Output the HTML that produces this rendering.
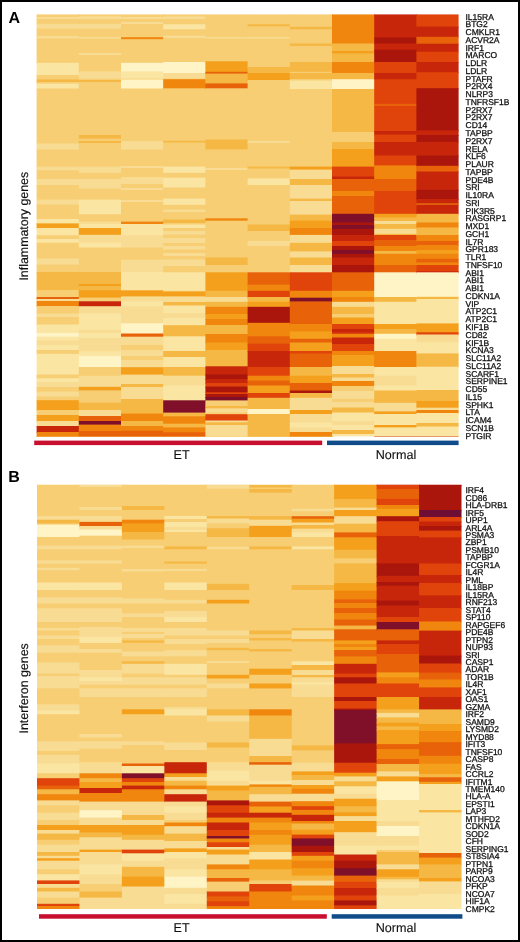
<!DOCTYPE html>
<html><head><meta charset="utf-8"><style>
html,body{margin:0;padding:0;background:#fff;}
body{width:520px;height:942px;overflow:hidden;position:relative;}
.frame{position:absolute;left:0;top:0;width:516px;height:938px;border:2px solid #000;}
svg{position:absolute;left:0;top:0;font-family:"Liberation Sans",sans-serif;text-rendering:geometricPrecision;filter:blur(0.45px);}
</style></head><body>
<div class="frame"></div>
<svg width="520" height="942" viewBox="0 0 520 942">
<rect x="36.60" y="14.40" width="43.20" height="3.60" fill="#f7ce73"/>
<rect x="36.60" y="17.00" width="43.20" height="3.00" fill="#f9dc94"/>
<rect x="36.60" y="19.00" width="43.20" height="5.80" fill="#f7ce73"/>
<rect x="36.60" y="23.80" width="43.20" height="5.90" fill="#f9dc94"/>
<rect x="36.60" y="28.70" width="43.20" height="8.30" fill="#f7ce73"/>
<rect x="36.60" y="36.00" width="43.20" height="3.40" fill="#f9dc94"/>
<rect x="36.60" y="38.40" width="43.20" height="25.40" fill="#f7ce73"/>
<rect x="36.60" y="62.80" width="43.20" height="13.20" fill="#fbe5a2"/>
<rect x="36.60" y="75.00" width="43.20" height="5.50" fill="#f7ce73"/>
<rect x="36.60" y="79.50" width="43.20" height="3.50" fill="#f5b844"/>
<rect x="36.60" y="82.00" width="43.20" height="2.60" fill="#f7ce73"/>
<rect x="36.60" y="83.60" width="43.20" height="5.90" fill="#fbe5a2"/>
<rect x="36.60" y="88.50" width="43.20" height="56.00" fill="#f7ce73"/>
<rect x="36.60" y="143.50" width="43.20" height="7.10" fill="#f9dc94"/>
<rect x="36.60" y="149.60" width="43.20" height="18.10" fill="#f7ce73"/>
<rect x="36.60" y="166.70" width="43.20" height="4.60" fill="#f9dc94"/>
<rect x="36.60" y="170.30" width="43.20" height="9.70" fill="#f7ce73"/>
<rect x="36.60" y="179.00" width="43.20" height="7.00" fill="#f9dc94"/>
<rect x="36.60" y="185.00" width="43.20" height="15.60" fill="#f7ce73"/>
<rect x="36.60" y="199.60" width="43.20" height="5.90" fill="#f9dc94"/>
<rect x="36.60" y="204.50" width="43.20" height="15.50" fill="#f7ce73"/>
<rect x="36.60" y="219.00" width="43.20" height="5.00" fill="#fbe5a2"/>
<rect x="36.60" y="223.00" width="43.20" height="1.60" fill="#f7ce73"/>
<rect x="36.60" y="223.60" width="43.20" height="5.40" fill="#f4a01c"/>
<rect x="36.60" y="228.00" width="43.20" height="8.30" fill="#fbe5a2"/>
<rect x="36.60" y="235.30" width="43.20" height="4.70" fill="#f7ce73"/>
<rect x="36.60" y="239.00" width="43.20" height="4.70" fill="#fbe5a2"/>
<rect x="36.60" y="242.70" width="43.20" height="16.80" fill="#f7ce73"/>
<rect x="36.60" y="258.50" width="43.20" height="7.10" fill="#f9dc94"/>
<rect x="36.60" y="264.60" width="43.20" height="8.40" fill="#f7ce73"/>
<rect x="36.60" y="272.00" width="43.20" height="19.00" fill="#f5b844"/>
<rect x="36.60" y="290.00" width="43.20" height="8.00" fill="#f7ce73"/>
<rect x="36.60" y="297.00" width="43.20" height="3.00" fill="#e8620a"/>
<rect x="36.60" y="299.00" width="43.20" height="3.00" fill="#f9dc94"/>
<rect x="36.60" y="301.00" width="43.20" height="6.00" fill="#f0860e"/>
<rect x="36.60" y="306.00" width="43.20" height="8.50" fill="#f7ce73"/>
<rect x="36.60" y="313.50" width="43.20" height="4.50" fill="#f9dc94"/>
<rect x="36.60" y="317.00" width="43.20" height="8.50" fill="#f7ce73"/>
<rect x="36.60" y="324.50" width="43.20" height="9.50" fill="#fbe5a2"/>
<rect x="36.60" y="333.00" width="43.20" height="4.70" fill="#fef4c6"/>
<rect x="36.60" y="336.70" width="43.20" height="4.70" fill="#fbe5a2"/>
<rect x="36.60" y="340.40" width="43.20" height="5.60" fill="#f9dc94"/>
<rect x="36.60" y="345.00" width="43.20" height="6.00" fill="#fbe5a2"/>
<rect x="36.60" y="350.00" width="43.20" height="4.80" fill="#f7ce73"/>
<rect x="36.60" y="353.80" width="43.20" height="21.80" fill="#fbe5a2"/>
<rect x="36.60" y="374.60" width="43.20" height="4.60" fill="#f7ce73"/>
<rect x="36.60" y="378.20" width="43.20" height="4.80" fill="#fbe5a2"/>
<rect x="36.60" y="382.00" width="43.20" height="6.00" fill="#f9dc94"/>
<rect x="36.60" y="387.00" width="43.20" height="5.60" fill="#f7ce73"/>
<rect x="36.60" y="391.60" width="43.20" height="5.90" fill="#f9dc94"/>
<rect x="36.60" y="396.50" width="43.20" height="4.70" fill="#f7ce73"/>
<rect x="36.60" y="400.20" width="43.20" height="10.80" fill="#f4a01c"/>
<rect x="36.60" y="410.00" width="43.20" height="6.00" fill="#f7ce73"/>
<rect x="36.60" y="415.00" width="43.20" height="7.00" fill="#f4a01c"/>
<rect x="36.60" y="421.00" width="43.20" height="6.00" fill="#f9dc94"/>
<rect x="36.60" y="426.00" width="43.20" height="7.00" fill="#c8260a"/>
<rect x="36.60" y="432.00" width="43.20" height="5.00" fill="#f0860e"/>
<rect x="36.60" y="436.00" width="43.20" height="0.40" fill="#f7ce73"/>
<rect x="78.80" y="14.40" width="43.20" height="3.00" fill="#f7ce73"/>
<rect x="78.80" y="16.40" width="43.20" height="3.60" fill="#f9dc94"/>
<rect x="78.80" y="19.00" width="43.20" height="5.80" fill="#f7ce73"/>
<rect x="78.80" y="23.80" width="43.20" height="5.90" fill="#f9dc94"/>
<rect x="78.80" y="28.70" width="43.20" height="9.30" fill="#f7ce73"/>
<rect x="78.80" y="37.00" width="43.20" height="2.50" fill="#f9dc94"/>
<rect x="78.80" y="38.50" width="43.20" height="15.50" fill="#f7ce73"/>
<rect x="78.80" y="53.00" width="43.20" height="3.00" fill="#f9dc94"/>
<rect x="78.80" y="55.00" width="43.20" height="17.40" fill="#f7ce73"/>
<rect x="78.80" y="71.40" width="43.20" height="8.30" fill="#f9dc94"/>
<rect x="78.80" y="78.70" width="43.20" height="2.30" fill="#f7ce73"/>
<rect x="78.80" y="80.00" width="43.20" height="3.00" fill="#f5b844"/>
<rect x="78.80" y="82.00" width="43.20" height="54.00" fill="#f7ce73"/>
<rect x="78.80" y="135.00" width="43.20" height="4.60" fill="#f5b844"/>
<rect x="78.80" y="138.60" width="43.20" height="3.40" fill="#f7ce73"/>
<rect x="78.80" y="141.00" width="43.20" height="3.00" fill="#f5b844"/>
<rect x="78.80" y="143.00" width="43.20" height="24.70" fill="#f7ce73"/>
<rect x="78.80" y="166.70" width="43.20" height="7.10" fill="#f9dc94"/>
<rect x="78.80" y="172.80" width="43.20" height="7.20" fill="#f7ce73"/>
<rect x="78.80" y="179.00" width="43.20" height="10.60" fill="#f9dc94"/>
<rect x="78.80" y="188.60" width="43.20" height="12.00" fill="#f7ce73"/>
<rect x="78.80" y="199.60" width="43.20" height="15.70" fill="#fbe5a2"/>
<rect x="78.80" y="214.30" width="43.20" height="8.30" fill="#f7ce73"/>
<rect x="78.80" y="221.60" width="43.20" height="3.40" fill="#f9dc94"/>
<rect x="78.80" y="224.00" width="43.20" height="5.00" fill="#fbe5a2"/>
<rect x="78.80" y="228.00" width="43.20" height="7.80" fill="#f4a01c"/>
<rect x="78.80" y="234.80" width="43.20" height="8.90" fill="#f9dc94"/>
<rect x="78.80" y="242.70" width="43.20" height="5.80" fill="#fbe5a2"/>
<rect x="78.80" y="247.50" width="43.20" height="25.50" fill="#f7ce73"/>
<rect x="78.80" y="272.00" width="43.20" height="13.00" fill="#f5b844"/>
<rect x="78.80" y="284.00" width="43.20" height="3.00" fill="#f4a01c"/>
<rect x="78.80" y="286.00" width="43.20" height="5.30" fill="#f5b844"/>
<rect x="78.80" y="290.30" width="43.20" height="8.30" fill="#f4a01c"/>
<rect x="78.80" y="297.60" width="43.20" height="4.70" fill="#f7ce73"/>
<rect x="78.80" y="301.30" width="43.20" height="5.90" fill="#c8260a"/>
<rect x="78.80" y="306.20" width="43.20" height="8.30" fill="#f9dc94"/>
<rect x="78.80" y="313.50" width="43.20" height="17.50" fill="#fbe5a2"/>
<rect x="78.80" y="330.00" width="43.20" height="4.00" fill="#f9dc94"/>
<rect x="78.80" y="333.00" width="43.20" height="6.00" fill="#fbe5a2"/>
<rect x="78.80" y="338.00" width="43.20" height="14.40" fill="#f9dc94"/>
<rect x="78.80" y="351.40" width="43.20" height="5.60" fill="#fbe5a2"/>
<rect x="78.80" y="356.00" width="43.20" height="12.00" fill="#fef4c6"/>
<rect x="78.80" y="367.00" width="43.20" height="9.80" fill="#f7ce73"/>
<rect x="78.80" y="375.80" width="43.20" height="12.00" fill="#f9dc94"/>
<rect x="78.80" y="386.80" width="43.20" height="4.60" fill="#f4a01c"/>
<rect x="78.80" y="390.40" width="43.20" height="13.20" fill="#f7ce73"/>
<rect x="78.80" y="402.60" width="43.20" height="8.40" fill="#f5b844"/>
<rect x="78.80" y="410.00" width="43.20" height="7.00" fill="#f9dc94"/>
<rect x="78.80" y="416.00" width="43.20" height="6.00" fill="#e8620a"/>
<rect x="78.80" y="421.00" width="43.20" height="4.60" fill="#80102a"/>
<rect x="78.80" y="424.60" width="43.20" height="7.40" fill="#f0860e"/>
<rect x="78.80" y="431.00" width="43.20" height="6.00" fill="#e8620a"/>
<rect x="78.80" y="436.00" width="43.20" height="0.40" fill="#f7ce73"/>
<rect x="121.00" y="14.40" width="43.20" height="3.60" fill="#f7ce73"/>
<rect x="121.00" y="17.00" width="43.20" height="3.00" fill="#f9dc94"/>
<rect x="121.00" y="19.00" width="43.20" height="4.00" fill="#f7ce73"/>
<rect x="121.00" y="22.00" width="43.20" height="3.00" fill="#f9dc94"/>
<rect x="121.00" y="24.00" width="43.20" height="14.20" fill="#f7ce73"/>
<rect x="121.00" y="37.20" width="43.20" height="3.00" fill="#f0860e"/>
<rect x="121.00" y="39.20" width="43.20" height="24.60" fill="#f7ce73"/>
<rect x="121.00" y="62.80" width="43.20" height="9.60" fill="#fef4c6"/>
<rect x="121.00" y="71.40" width="43.20" height="8.30" fill="#fbe5a2"/>
<rect x="121.00" y="78.70" width="43.20" height="1.80" fill="#f7ce73"/>
<rect x="121.00" y="79.50" width="43.20" height="10.00" fill="#fef4c6"/>
<rect x="121.00" y="88.50" width="43.20" height="53.50" fill="#f7ce73"/>
<rect x="121.00" y="141.00" width="43.20" height="9.60" fill="#f9dc94"/>
<rect x="121.00" y="149.60" width="43.20" height="17.40" fill="#f7ce73"/>
<rect x="121.00" y="166.00" width="43.20" height="3.00" fill="#f9dc94"/>
<rect x="121.00" y="168.00" width="43.20" height="10.00" fill="#f7ce73"/>
<rect x="121.00" y="177.00" width="43.20" height="8.00" fill="#f9dc94"/>
<rect x="121.00" y="184.00" width="43.20" height="5.00" fill="#f7ce73"/>
<rect x="121.00" y="188.00" width="43.20" height="3.00" fill="#f9dc94"/>
<rect x="121.00" y="190.00" width="43.20" height="11.00" fill="#f7ce73"/>
<rect x="121.00" y="200.00" width="43.20" height="3.00" fill="#f9dc94"/>
<rect x="121.00" y="202.00" width="43.20" height="20.60" fill="#f7ce73"/>
<rect x="121.00" y="221.60" width="43.20" height="3.40" fill="#f0860e"/>
<rect x="121.00" y="224.00" width="43.20" height="12.30" fill="#fbe5a2"/>
<rect x="121.00" y="235.30" width="43.20" height="13.20" fill="#f9dc94"/>
<rect x="121.00" y="247.50" width="43.20" height="13.20" fill="#f7ce73"/>
<rect x="121.00" y="259.70" width="43.20" height="13.30" fill="#f9dc94"/>
<rect x="121.00" y="272.00" width="43.20" height="19.30" fill="#fbe5a2"/>
<rect x="121.00" y="290.30" width="43.20" height="7.10" fill="#f4a01c"/>
<rect x="121.00" y="296.40" width="43.20" height="5.90" fill="#f9dc94"/>
<rect x="121.00" y="301.30" width="43.20" height="5.90" fill="#fbe5a2"/>
<rect x="121.00" y="306.20" width="43.20" height="18.10" fill="#f9dc94"/>
<rect x="121.00" y="323.30" width="43.20" height="11.20" fill="#fef4c6"/>
<rect x="121.00" y="333.50" width="43.20" height="4.20" fill="#e8620a"/>
<rect x="121.00" y="336.70" width="43.20" height="9.30" fill="#f9dc94"/>
<rect x="121.00" y="345.00" width="43.20" height="6.00" fill="#f7ce73"/>
<rect x="121.00" y="350.00" width="43.20" height="7.00" fill="#f9dc94"/>
<rect x="121.00" y="356.00" width="43.20" height="5.00" fill="#f7ce73"/>
<rect x="121.00" y="360.00" width="43.20" height="8.20" fill="#f9dc94"/>
<rect x="121.00" y="367.20" width="43.20" height="8.40" fill="#f4a01c"/>
<rect x="121.00" y="374.60" width="43.20" height="10.40" fill="#f9dc94"/>
<rect x="121.00" y="384.00" width="43.20" height="4.00" fill="#f5b844"/>
<rect x="121.00" y="387.00" width="43.20" height="13.00" fill="#f9dc94"/>
<rect x="121.00" y="399.00" width="43.20" height="15.60" fill="#f5b844"/>
<rect x="121.00" y="413.60" width="43.20" height="8.40" fill="#f0860e"/>
<rect x="121.00" y="421.00" width="43.20" height="6.00" fill="#f5b844"/>
<rect x="121.00" y="426.00" width="43.20" height="5.70" fill="#f0860e"/>
<rect x="121.00" y="430.70" width="43.20" height="6.30" fill="#e8620a"/>
<rect x="121.00" y="436.00" width="43.20" height="0.40" fill="#f7ce73"/>
<rect x="163.20" y="14.40" width="43.20" height="3.10" fill="#f7ce73"/>
<rect x="163.20" y="16.50" width="43.20" height="3.50" fill="#f9dc94"/>
<rect x="163.20" y="19.00" width="43.20" height="6.30" fill="#f7ce73"/>
<rect x="163.20" y="24.30" width="43.20" height="6.00" fill="#fbe5a2"/>
<rect x="163.20" y="29.30" width="43.20" height="7.40" fill="#f7ce73"/>
<rect x="163.20" y="35.70" width="43.20" height="3.30" fill="#f9dc94"/>
<rect x="163.20" y="38.00" width="43.20" height="25.00" fill="#f7ce73"/>
<rect x="163.20" y="62.00" width="43.20" height="12.00" fill="#fef4c6"/>
<rect x="163.20" y="73.00" width="43.20" height="6.50" fill="#f9dc94"/>
<rect x="163.20" y="78.50" width="43.20" height="1.70" fill="#f7ce73"/>
<rect x="163.20" y="79.20" width="43.20" height="10.10" fill="#f0860e"/>
<rect x="163.20" y="88.30" width="43.20" height="53.50" fill="#f7ce73"/>
<rect x="163.20" y="140.80" width="43.20" height="2.70" fill="#f5b844"/>
<rect x="163.20" y="142.50" width="43.20" height="25.10" fill="#f7ce73"/>
<rect x="163.20" y="166.60" width="43.20" height="7.20" fill="#fbe5a2"/>
<rect x="163.20" y="172.80" width="43.20" height="5.90" fill="#f7ce73"/>
<rect x="163.20" y="177.70" width="43.20" height="10.80" fill="#fbe5a2"/>
<rect x="163.20" y="187.50" width="43.20" height="12.10" fill="#f7ce73"/>
<rect x="163.20" y="198.60" width="43.20" height="7.20" fill="#fbe5a2"/>
<rect x="163.20" y="204.80" width="43.20" height="5.90" fill="#f7ce73"/>
<rect x="163.20" y="209.70" width="43.20" height="3.30" fill="#f9dc94"/>
<rect x="163.20" y="212.00" width="43.20" height="8.50" fill="#f7ce73"/>
<rect x="163.20" y="219.50" width="43.20" height="4.50" fill="#f5b844"/>
<rect x="163.20" y="223.00" width="43.20" height="2.50" fill="#f7ce73"/>
<rect x="163.20" y="224.50" width="43.20" height="4.50" fill="#fbe5a2"/>
<rect x="163.20" y="228.00" width="43.20" height="4.00" fill="#f7ce73"/>
<rect x="163.20" y="231.00" width="43.20" height="4.60" fill="#f9dc94"/>
<rect x="163.20" y="234.60" width="43.20" height="4.40" fill="#f7ce73"/>
<rect x="163.20" y="238.00" width="43.20" height="6.00" fill="#f9dc94"/>
<rect x="163.20" y="243.00" width="43.20" height="4.00" fill="#f7ce73"/>
<rect x="163.20" y="246.00" width="43.20" height="4.50" fill="#f9dc94"/>
<rect x="163.20" y="249.50" width="43.20" height="4.50" fill="#f7ce73"/>
<rect x="163.20" y="253.00" width="43.20" height="4.00" fill="#f9dc94"/>
<rect x="163.20" y="256.00" width="43.20" height="4.50" fill="#f7ce73"/>
<rect x="163.20" y="259.50" width="43.20" height="7.50" fill="#f9dc94"/>
<rect x="163.20" y="266.00" width="43.20" height="7.30" fill="#f7ce73"/>
<rect x="163.20" y="272.30" width="43.20" height="19.50" fill="#fbe5a2"/>
<rect x="163.20" y="290.80" width="43.20" height="1.70" fill="#f7ce73"/>
<rect x="163.20" y="291.50" width="43.20" height="5.90" fill="#f4a01c"/>
<rect x="163.20" y="296.40" width="43.20" height="6.60" fill="#f9dc94"/>
<rect x="163.20" y="302.00" width="43.20" height="4.50" fill="#f5b844"/>
<rect x="163.20" y="305.50" width="43.20" height="8.50" fill="#fbe5a2"/>
<rect x="163.20" y="313.00" width="43.20" height="6.00" fill="#f9dc94"/>
<rect x="163.20" y="318.00" width="43.20" height="8.20" fill="#fbe5a2"/>
<rect x="163.20" y="325.20" width="43.20" height="12.10" fill="#f5b844"/>
<rect x="163.20" y="336.30" width="43.20" height="15.70" fill="#fbe5a2"/>
<rect x="163.20" y="351.00" width="43.20" height="7.00" fill="#f5b844"/>
<rect x="163.20" y="357.00" width="43.20" height="11.00" fill="#fbe5a2"/>
<rect x="163.20" y="367.00" width="43.20" height="9.70" fill="#f5b844"/>
<rect x="163.20" y="375.70" width="43.20" height="10.80" fill="#f9dc94"/>
<rect x="163.20" y="385.50" width="43.20" height="15.80" fill="#fbe5a2"/>
<rect x="163.20" y="400.30" width="43.20" height="13.30" fill="#80102a"/>
<rect x="163.20" y="412.60" width="43.20" height="4.70" fill="#f5b844"/>
<rect x="163.20" y="416.30" width="43.20" height="8.40" fill="#f0860e"/>
<rect x="163.20" y="423.70" width="43.20" height="4.70" fill="#f5b844"/>
<rect x="163.20" y="427.40" width="43.20" height="5.90" fill="#f0860e"/>
<rect x="163.20" y="432.30" width="43.20" height="4.70" fill="#e8620a"/>
<rect x="163.20" y="436.00" width="43.20" height="0.40" fill="#f7ce73"/>
<rect x="205.40" y="14.40" width="43.20" height="23.60" fill="#f7ce73"/>
<rect x="205.40" y="37.00" width="43.20" height="2.50" fill="#f9dc94"/>
<rect x="205.40" y="38.50" width="43.20" height="23.80" fill="#f7ce73"/>
<rect x="205.40" y="61.30" width="43.20" height="11.50" fill="#f4a01c"/>
<rect x="205.40" y="71.80" width="43.20" height="2.80" fill="#e8620a"/>
<rect x="205.40" y="73.60" width="43.20" height="10.80" fill="#f5b844"/>
<rect x="205.40" y="83.40" width="43.20" height="5.90" fill="#e8620a"/>
<rect x="205.40" y="88.30" width="43.20" height="52.20" fill="#f7ce73"/>
<rect x="205.40" y="139.50" width="43.20" height="10.90" fill="#f5b844"/>
<rect x="205.40" y="149.40" width="43.20" height="19.60" fill="#f7ce73"/>
<rect x="205.40" y="168.00" width="43.20" height="3.00" fill="#f9dc94"/>
<rect x="205.40" y="170.00" width="43.20" height="49.30" fill="#f7ce73"/>
<rect x="205.40" y="218.30" width="43.20" height="3.40" fill="#f0860e"/>
<rect x="205.40" y="220.70" width="43.20" height="37.80" fill="#f7ce73"/>
<rect x="205.40" y="257.50" width="43.20" height="8.50" fill="#f5b844"/>
<rect x="205.40" y="265.00" width="43.20" height="8.30" fill="#f7ce73"/>
<rect x="205.40" y="272.30" width="43.20" height="19.50" fill="#f4a01c"/>
<rect x="205.40" y="290.80" width="43.20" height="7.20" fill="#f5b844"/>
<rect x="205.40" y="297.00" width="43.20" height="5.80" fill="#f9dc94"/>
<rect x="205.40" y="301.80" width="43.20" height="6.00" fill="#f5b844"/>
<rect x="205.40" y="306.80" width="43.20" height="8.20" fill="#f0860e"/>
<rect x="205.40" y="314.00" width="43.20" height="6.00" fill="#f4a01c"/>
<rect x="205.40" y="319.00" width="43.20" height="7.00" fill="#f0860e"/>
<rect x="205.40" y="325.00" width="43.20" height="10.00" fill="#f5b844"/>
<rect x="205.40" y="334.00" width="43.20" height="9.50" fill="#f0860e"/>
<rect x="205.40" y="342.50" width="43.20" height="8.50" fill="#f4a01c"/>
<rect x="205.40" y="350.00" width="43.20" height="17.30" fill="#f5b844"/>
<rect x="205.40" y="366.30" width="43.20" height="9.10" fill="#c8260a"/>
<rect x="205.40" y="374.40" width="43.20" height="5.60" fill="#aa160c"/>
<rect x="205.40" y="379.00" width="43.20" height="5.00" fill="#c8260a"/>
<rect x="205.40" y="383.00" width="43.20" height="4.50" fill="#e0440a"/>
<rect x="205.40" y="386.50" width="43.20" height="6.80" fill="#aa160c"/>
<rect x="205.40" y="392.30" width="43.20" height="2.70" fill="#e0440a"/>
<rect x="205.40" y="394.00" width="43.20" height="4.00" fill="#aa160c"/>
<rect x="205.40" y="397.00" width="43.20" height="4.40" fill="#80102a"/>
<rect x="205.40" y="400.40" width="43.20" height="6.60" fill="#f7ce73"/>
<rect x="205.40" y="406.00" width="43.20" height="3.40" fill="#f5b844"/>
<rect x="205.40" y="408.40" width="43.20" height="5.10" fill="#f9dc94"/>
<rect x="205.40" y="412.50" width="43.20" height="2.70" fill="#f7ce73"/>
<rect x="205.40" y="414.20" width="43.20" height="7.30" fill="#e0440a"/>
<rect x="205.40" y="420.50" width="43.20" height="2.80" fill="#f9dc94"/>
<rect x="205.40" y="422.30" width="43.20" height="3.70" fill="#f5b844"/>
<rect x="205.40" y="425.00" width="43.20" height="12.00" fill="#f9dc94"/>
<rect x="205.40" y="436.00" width="43.20" height="0.40" fill="#f7ce73"/>
<rect x="247.60" y="14.40" width="43.20" height="10.90" fill="#f7ce73"/>
<rect x="247.60" y="24.30" width="43.20" height="3.00" fill="#f5b844"/>
<rect x="247.60" y="26.30" width="43.20" height="11.70" fill="#f7ce73"/>
<rect x="247.60" y="37.00" width="43.20" height="2.50" fill="#f9dc94"/>
<rect x="247.60" y="38.50" width="43.20" height="29.50" fill="#f7ce73"/>
<rect x="247.60" y="67.00" width="43.20" height="7.00" fill="#f5b844"/>
<rect x="247.60" y="73.00" width="43.20" height="8.00" fill="#f4a01c"/>
<rect x="247.60" y="80.00" width="43.20" height="61.80" fill="#f7ce73"/>
<rect x="247.60" y="140.80" width="43.20" height="3.20" fill="#f9dc94"/>
<rect x="247.60" y="143.00" width="43.20" height="24.60" fill="#f7ce73"/>
<rect x="247.60" y="166.60" width="43.20" height="2.90" fill="#f5b844"/>
<rect x="247.60" y="168.50" width="43.20" height="10.90" fill="#f7ce73"/>
<rect x="247.60" y="178.40" width="43.20" height="7.60" fill="#fbe5a2"/>
<rect x="247.60" y="185.00" width="43.20" height="40.50" fill="#f7ce73"/>
<rect x="247.60" y="224.50" width="43.20" height="7.50" fill="#f5b844"/>
<rect x="247.60" y="231.00" width="43.20" height="11.00" fill="#f7ce73"/>
<rect x="247.60" y="241.00" width="43.20" height="6.00" fill="#f9dc94"/>
<rect x="247.60" y="246.00" width="43.20" height="27.30" fill="#f7ce73"/>
<rect x="247.60" y="272.30" width="43.20" height="13.30" fill="#e8620a"/>
<rect x="247.60" y="284.60" width="43.20" height="7.20" fill="#f0860e"/>
<rect x="247.60" y="290.80" width="43.20" height="7.20" fill="#e0440a"/>
<rect x="247.60" y="297.00" width="43.20" height="5.80" fill="#f5b844"/>
<rect x="247.60" y="301.80" width="43.20" height="6.00" fill="#f4a01c"/>
<rect x="247.60" y="306.80" width="43.20" height="17.00" fill="#aa160c"/>
<rect x="247.60" y="322.80" width="43.20" height="14.50" fill="#f0860e"/>
<rect x="247.60" y="336.30" width="43.20" height="8.40" fill="#e8620a"/>
<rect x="247.60" y="343.70" width="43.20" height="8.30" fill="#e0440a"/>
<rect x="247.60" y="351.00" width="43.20" height="17.00" fill="#c8260a"/>
<rect x="247.60" y="367.00" width="43.20" height="9.70" fill="#e0440a"/>
<rect x="247.60" y="375.70" width="43.20" height="5.90" fill="#f0860e"/>
<rect x="247.60" y="380.60" width="43.20" height="5.90" fill="#e8620a"/>
<rect x="247.60" y="385.50" width="43.20" height="8.50" fill="#f4a01c"/>
<rect x="247.60" y="393.00" width="43.20" height="5.80" fill="#e0440a"/>
<rect x="247.60" y="397.80" width="43.20" height="12.20" fill="#f5b844"/>
<rect x="247.60" y="409.00" width="43.20" height="6.00" fill="#fef4c6"/>
<rect x="247.60" y="414.00" width="43.20" height="23.00" fill="#f5b844"/>
<rect x="247.60" y="436.00" width="43.20" height="0.40" fill="#f7ce73"/>
<rect x="289.80" y="14.40" width="43.20" height="13.40" fill="#f7ce73"/>
<rect x="289.80" y="26.80" width="43.20" height="3.50" fill="#f5b844"/>
<rect x="289.80" y="29.30" width="43.20" height="15.20" fill="#f7ce73"/>
<rect x="289.80" y="43.50" width="43.20" height="3.50" fill="#f5b844"/>
<rect x="289.80" y="46.00" width="43.20" height="17.00" fill="#f7ce73"/>
<rect x="289.80" y="62.00" width="43.20" height="10.80" fill="#f5b844"/>
<rect x="289.80" y="71.80" width="43.20" height="2.20" fill="#f7ce73"/>
<rect x="289.80" y="73.00" width="43.20" height="7.00" fill="#f5b844"/>
<rect x="289.80" y="79.00" width="43.20" height="2.50" fill="#f7ce73"/>
<rect x="289.80" y="80.50" width="43.20" height="9.50" fill="#fbe5a2"/>
<rect x="289.80" y="89.00" width="43.20" height="78.60" fill="#f7ce73"/>
<rect x="289.80" y="166.60" width="43.20" height="4.00" fill="#f4a01c"/>
<rect x="289.80" y="169.60" width="43.20" height="10.40" fill="#f9dc94"/>
<rect x="289.80" y="179.00" width="43.20" height="7.00" fill="#f5b844"/>
<rect x="289.80" y="185.00" width="43.20" height="14.60" fill="#f9dc94"/>
<rect x="289.80" y="198.60" width="43.20" height="3.40" fill="#f5b844"/>
<rect x="289.80" y="201.00" width="43.20" height="14.60" fill="#f9dc94"/>
<rect x="289.80" y="214.60" width="43.20" height="7.10" fill="#f5b844"/>
<rect x="289.80" y="220.70" width="43.20" height="8.30" fill="#f4a01c"/>
<rect x="289.80" y="228.00" width="43.20" height="7.90" fill="#f0860e"/>
<rect x="289.80" y="234.90" width="43.20" height="8.90" fill="#f9dc94"/>
<rect x="289.80" y="242.80" width="43.20" height="9.60" fill="#f5b844"/>
<rect x="289.80" y="251.40" width="43.20" height="7.10" fill="#f9dc94"/>
<rect x="289.80" y="257.50" width="43.20" height="8.50" fill="#f5b844"/>
<rect x="289.80" y="265.00" width="43.20" height="8.30" fill="#f9dc94"/>
<rect x="289.80" y="272.30" width="43.20" height="19.50" fill="#e0440a"/>
<rect x="289.80" y="290.80" width="43.20" height="7.90" fill="#f0860e"/>
<rect x="289.80" y="297.70" width="43.20" height="4.70" fill="#80102a"/>
<rect x="289.80" y="301.40" width="43.20" height="23.60" fill="#e8620a"/>
<rect x="289.80" y="324.00" width="43.20" height="8.40" fill="#f0860e"/>
<rect x="289.80" y="331.40" width="43.20" height="8.40" fill="#f4a01c"/>
<rect x="289.80" y="338.80" width="43.20" height="4.70" fill="#e8620a"/>
<rect x="289.80" y="342.50" width="43.20" height="9.50" fill="#f4a01c"/>
<rect x="289.80" y="351.00" width="43.20" height="3.50" fill="#e0440a"/>
<rect x="289.80" y="353.50" width="43.20" height="14.50" fill="#e8620a"/>
<rect x="289.80" y="367.00" width="43.20" height="9.70" fill="#f5b844"/>
<rect x="289.80" y="375.70" width="43.20" height="8.30" fill="#f4a01c"/>
<rect x="289.80" y="383.00" width="43.20" height="8.50" fill="#e8620a"/>
<rect x="289.80" y="390.50" width="43.20" height="3.50" fill="#aa160c"/>
<rect x="289.80" y="393.00" width="43.20" height="5.80" fill="#f5b844"/>
<rect x="289.80" y="397.80" width="43.20" height="13.20" fill="#f9dc94"/>
<rect x="289.80" y="410.00" width="43.20" height="5.00" fill="#f4a01c"/>
<rect x="289.80" y="414.00" width="43.20" height="9.50" fill="#f9dc94"/>
<rect x="289.80" y="422.50" width="43.20" height="5.90" fill="#fbe5a2"/>
<rect x="289.80" y="427.40" width="43.20" height="5.60" fill="#f9dc94"/>
<rect x="289.80" y="432.00" width="43.20" height="5.00" fill="#f0860e"/>
<rect x="289.80" y="436.00" width="43.20" height="0.40" fill="#f7ce73"/>
<rect x="332.00" y="14.40" width="43.20" height="30.10" fill="#f0860e"/>
<rect x="332.00" y="43.50" width="43.20" height="8.50" fill="#f5b844"/>
<rect x="332.00" y="51.00" width="43.20" height="3.40" fill="#f4a01c"/>
<rect x="332.00" y="53.40" width="43.20" height="9.60" fill="#f5b844"/>
<rect x="332.00" y="62.00" width="43.20" height="12.00" fill="#f0860e"/>
<rect x="332.00" y="73.00" width="43.20" height="7.20" fill="#f5b844"/>
<rect x="332.00" y="79.20" width="43.20" height="10.80" fill="#fef4c6"/>
<rect x="332.00" y="89.00" width="43.20" height="44.00" fill="#f5b844"/>
<rect x="332.00" y="132.00" width="43.20" height="11.00" fill="#f7ce73"/>
<rect x="332.00" y="142.00" width="43.20" height="8.00" fill="#f5b844"/>
<rect x="332.00" y="149.00" width="43.20" height="18.60" fill="#f4a01c"/>
<rect x="332.00" y="166.60" width="43.20" height="10.90" fill="#e0440a"/>
<rect x="332.00" y="176.50" width="43.20" height="3.50" fill="#c8260a"/>
<rect x="332.00" y="179.00" width="43.20" height="13.00" fill="#e8620a"/>
<rect x="332.00" y="191.00" width="43.20" height="6.00" fill="#f0860e"/>
<rect x="332.00" y="196.00" width="43.20" height="18.80" fill="#e8620a"/>
<rect x="332.00" y="213.80" width="43.20" height="9.70" fill="#80102a"/>
<rect x="332.00" y="222.50" width="43.20" height="3.50" fill="#aa160c"/>
<rect x="332.00" y="225.00" width="43.20" height="4.80" fill="#80102a"/>
<rect x="332.00" y="228.80" width="43.20" height="7.20" fill="#aa160c"/>
<rect x="332.00" y="235.00" width="43.20" height="7.00" fill="#c8260a"/>
<rect x="332.00" y="241.00" width="43.20" height="6.00" fill="#e0440a"/>
<rect x="332.00" y="246.00" width="43.20" height="5.00" fill="#aa160c"/>
<rect x="332.00" y="250.00" width="43.20" height="4.80" fill="#80102a"/>
<rect x="332.00" y="253.80" width="43.20" height="4.70" fill="#aa160c"/>
<rect x="332.00" y="257.50" width="43.20" height="8.50" fill="#c8260a"/>
<rect x="332.00" y="265.00" width="43.20" height="8.30" fill="#aa160c"/>
<rect x="332.00" y="272.30" width="43.20" height="19.50" fill="#e8620a"/>
<rect x="332.00" y="290.80" width="43.20" height="7.20" fill="#f4a01c"/>
<rect x="332.00" y="297.00" width="43.20" height="5.80" fill="#f0860e"/>
<rect x="332.00" y="301.80" width="43.20" height="6.00" fill="#f9dc94"/>
<rect x="332.00" y="306.80" width="43.20" height="8.20" fill="#f5b844"/>
<rect x="332.00" y="314.00" width="43.20" height="4.50" fill="#f7ce73"/>
<rect x="332.00" y="317.50" width="43.20" height="7.50" fill="#f4a01c"/>
<rect x="332.00" y="324.00" width="43.20" height="6.00" fill="#e0440a"/>
<rect x="332.00" y="329.00" width="43.20" height="4.60" fill="#c8260a"/>
<rect x="332.00" y="332.60" width="43.20" height="2.40" fill="#e0440a"/>
<rect x="332.00" y="334.00" width="43.20" height="4.50" fill="#f0860e"/>
<rect x="332.00" y="337.50" width="43.20" height="7.50" fill="#c8260a"/>
<rect x="332.00" y="344.00" width="43.20" height="8.00" fill="#e0440a"/>
<rect x="332.00" y="351.00" width="43.20" height="5.00" fill="#f0860e"/>
<rect x="332.00" y="355.00" width="43.20" height="12.00" fill="#f4a01c"/>
<rect x="332.00" y="366.00" width="43.20" height="9.00" fill="#f9dc94"/>
<rect x="332.00" y="374.00" width="43.20" height="4.50" fill="#f5b844"/>
<rect x="332.00" y="377.50" width="43.20" height="4.50" fill="#f9dc94"/>
<rect x="332.00" y="381.00" width="43.20" height="6.00" fill="#f0860e"/>
<rect x="332.00" y="386.00" width="43.20" height="6.00" fill="#f7ce73"/>
<rect x="332.00" y="391.00" width="43.20" height="8.80" fill="#f9dc94"/>
<rect x="332.00" y="398.80" width="43.20" height="4.20" fill="#f7ce73"/>
<rect x="332.00" y="402.00" width="43.20" height="6.50" fill="#f9dc94"/>
<rect x="332.00" y="407.50" width="43.20" height="6.00" fill="#f5b844"/>
<rect x="332.00" y="412.50" width="43.20" height="9.50" fill="#fbe5a2"/>
<rect x="332.00" y="421.00" width="43.20" height="5.00" fill="#f9dc94"/>
<rect x="332.00" y="425.00" width="43.20" height="6.00" fill="#fbe5a2"/>
<rect x="332.00" y="430.00" width="43.20" height="5.00" fill="#f5b844"/>
<rect x="332.00" y="434.00" width="43.20" height="2.40" fill="#fbe5a2"/>
<rect x="374.20" y="14.40" width="43.20" height="24.00" fill="#c8260a"/>
<rect x="374.20" y="37.40" width="43.20" height="7.10" fill="#aa160c"/>
<rect x="374.20" y="43.50" width="43.20" height="7.20" fill="#c8260a"/>
<rect x="374.20" y="49.70" width="43.20" height="13.30" fill="#aa160c"/>
<rect x="374.20" y="62.00" width="43.20" height="12.00" fill="#e0440a"/>
<rect x="374.20" y="73.00" width="43.20" height="7.20" fill="#c8260a"/>
<rect x="374.20" y="79.20" width="43.20" height="25.60" fill="#e0440a"/>
<rect x="374.20" y="103.80" width="43.20" height="3.20" fill="#e8620a"/>
<rect x="374.20" y="106.00" width="43.20" height="26.00" fill="#e0440a"/>
<rect x="374.20" y="131.00" width="43.20" height="4.60" fill="#c8260a"/>
<rect x="374.20" y="134.60" width="43.20" height="8.40" fill="#e0440a"/>
<rect x="374.20" y="142.00" width="43.20" height="14.50" fill="#c8260a"/>
<rect x="374.20" y="155.50" width="43.20" height="10.90" fill="#e0440a"/>
<rect x="374.20" y="165.40" width="43.20" height="14.60" fill="#f0860e"/>
<rect x="374.20" y="179.00" width="43.20" height="13.00" fill="#e8620a"/>
<rect x="374.20" y="191.00" width="43.20" height="23.80" fill="#e0440a"/>
<rect x="374.20" y="213.80" width="43.20" height="4.70" fill="#f4a01c"/>
<rect x="374.20" y="217.50" width="43.20" height="4.50" fill="#f5b844"/>
<rect x="374.20" y="221.00" width="43.20" height="4.00" fill="#f9dc94"/>
<rect x="374.20" y="224.00" width="43.20" height="5.80" fill="#f5b844"/>
<rect x="374.20" y="228.80" width="43.20" height="6.00" fill="#f9dc94"/>
<rect x="374.20" y="233.80" width="43.20" height="2.20" fill="#f5b844"/>
<rect x="374.20" y="235.00" width="43.20" height="6.00" fill="#e0440a"/>
<rect x="374.20" y="240.00" width="43.20" height="7.00" fill="#e8620a"/>
<rect x="374.20" y="246.00" width="43.20" height="6.00" fill="#f0860e"/>
<rect x="374.20" y="251.00" width="43.20" height="3.80" fill="#f5b844"/>
<rect x="374.20" y="253.80" width="43.20" height="12.20" fill="#f0860e"/>
<rect x="374.20" y="265.00" width="43.20" height="8.30" fill="#e8620a"/>
<rect x="374.20" y="272.30" width="43.20" height="25.70" fill="#fef4c6"/>
<rect x="374.20" y="297.00" width="43.20" height="5.80" fill="#f5b844"/>
<rect x="374.20" y="301.80" width="43.20" height="23.20" fill="#fbe5a2"/>
<rect x="374.20" y="324.00" width="43.20" height="6.00" fill="#f4a01c"/>
<rect x="374.20" y="329.00" width="43.20" height="5.80" fill="#f5b844"/>
<rect x="374.20" y="333.80" width="43.20" height="6.00" fill="#fef4c6"/>
<rect x="374.20" y="338.80" width="43.20" height="13.20" fill="#fbe5a2"/>
<rect x="374.20" y="351.00" width="43.20" height="17.00" fill="#f0860e"/>
<rect x="374.20" y="367.00" width="43.20" height="9.70" fill="#fbe5a2"/>
<rect x="374.20" y="375.70" width="43.20" height="10.80" fill="#f9dc94"/>
<rect x="374.20" y="385.50" width="43.20" height="6.00" fill="#fbe5a2"/>
<rect x="374.20" y="390.50" width="43.20" height="13.30" fill="#f5b844"/>
<rect x="374.20" y="402.80" width="43.20" height="9.60" fill="#f9dc94"/>
<rect x="374.20" y="411.40" width="43.20" height="3.60" fill="#f4a01c"/>
<rect x="374.20" y="414.00" width="43.20" height="12.00" fill="#fbe5a2"/>
<rect x="374.20" y="425.00" width="43.20" height="3.40" fill="#f4a01c"/>
<rect x="374.20" y="427.40" width="43.20" height="9.60" fill="#fbe5a2"/>
<rect x="374.20" y="436.00" width="43.20" height="0.40" fill="#c8260a"/>
<rect x="416.40" y="14.40" width="42.20" height="13.20" fill="#e0440a"/>
<rect x="416.40" y="26.60" width="42.20" height="11.20" fill="#c8260a"/>
<rect x="416.40" y="36.80" width="42.20" height="7.90" fill="#e8620a"/>
<rect x="416.40" y="43.70" width="42.20" height="9.00" fill="#c8260a"/>
<rect x="416.40" y="51.70" width="42.20" height="11.30" fill="#e0440a"/>
<rect x="416.40" y="62.00" width="42.20" height="11.20" fill="#c8260a"/>
<rect x="416.40" y="72.20" width="42.20" height="17.00" fill="#e0440a"/>
<rect x="416.40" y="88.20" width="42.20" height="43.20" fill="#aa160c"/>
<rect x="416.40" y="130.40" width="42.20" height="5.60" fill="#c8260a"/>
<rect x="416.40" y="135.00" width="42.20" height="7.80" fill="#aa160c"/>
<rect x="416.40" y="141.80" width="42.20" height="14.70" fill="#c8260a"/>
<rect x="416.40" y="155.50" width="42.20" height="11.30" fill="#aa160c"/>
<rect x="416.40" y="165.80" width="42.20" height="6.70" fill="#e8620a"/>
<rect x="416.40" y="171.50" width="42.20" height="19.30" fill="#c8260a"/>
<rect x="416.40" y="189.80" width="42.20" height="10.20" fill="#aa160c"/>
<rect x="416.40" y="199.00" width="42.20" height="5.50" fill="#c8260a"/>
<rect x="416.40" y="203.50" width="42.20" height="2.10" fill="#f0860e"/>
<rect x="416.40" y="204.60" width="42.20" height="10.20" fill="#c8260a"/>
<rect x="416.40" y="213.80" width="42.20" height="9.70" fill="#f5b844"/>
<rect x="416.40" y="222.50" width="42.20" height="6.00" fill="#f0860e"/>
<rect x="416.40" y="227.50" width="42.20" height="8.50" fill="#f5b844"/>
<rect x="416.40" y="235.00" width="42.20" height="7.00" fill="#f0860e"/>
<rect x="416.40" y="241.00" width="42.20" height="5.00" fill="#e8620a"/>
<rect x="416.40" y="245.00" width="42.20" height="6.00" fill="#f0860e"/>
<rect x="416.40" y="250.00" width="42.20" height="4.80" fill="#f4a01c"/>
<rect x="416.40" y="253.80" width="42.20" height="6.00" fill="#f0860e"/>
<rect x="416.40" y="258.80" width="42.20" height="4.70" fill="#e8620a"/>
<rect x="416.40" y="262.50" width="42.20" height="3.50" fill="#f0860e"/>
<rect x="416.40" y="265.00" width="42.20" height="7.30" fill="#e0440a"/>
<rect x="416.40" y="271.30" width="42.20" height="2.00" fill="#c8260a"/>
<rect x="416.40" y="272.30" width="42.20" height="25.50" fill="#fef4c6"/>
<rect x="416.40" y="296.80" width="42.20" height="3.20" fill="#f5b844"/>
<rect x="416.40" y="299.00" width="42.20" height="25.40" fill="#fbe5a2"/>
<rect x="416.40" y="323.40" width="42.20" height="9.90" fill="#f4a01c"/>
<rect x="416.40" y="332.30" width="42.20" height="3.20" fill="#e0440a"/>
<rect x="416.40" y="334.50" width="42.20" height="8.80" fill="#f9dc94"/>
<rect x="416.40" y="342.30" width="42.20" height="12.10" fill="#fbe5a2"/>
<rect x="416.40" y="353.40" width="42.20" height="14.30" fill="#f5b844"/>
<rect x="416.40" y="366.70" width="42.20" height="24.30" fill="#fbe5a2"/>
<rect x="416.40" y="390.00" width="42.20" height="12.00" fill="#f5b844"/>
<rect x="416.40" y="401.00" width="42.20" height="7.70" fill="#f4a01c"/>
<rect x="416.40" y="407.70" width="42.20" height="3.30" fill="#f9dc94"/>
<rect x="416.40" y="410.00" width="42.20" height="4.00" fill="#f0860e"/>
<rect x="416.40" y="413.00" width="42.20" height="11.00" fill="#fbe5a2"/>
<rect x="416.40" y="423.00" width="42.20" height="4.50" fill="#f5b844"/>
<rect x="416.40" y="426.50" width="42.20" height="10.50" fill="#fbe5a2"/>
<rect x="416.40" y="436.00" width="42.20" height="0.40" fill="#c8260a"/>
<rect x="37.00" y="484.70" width="43.45" height="32.30" fill="#f7ce73"/>
<rect x="37.00" y="516.00" width="43.45" height="4.70" fill="#f9dc94"/>
<rect x="37.00" y="519.70" width="43.45" height="4.70" fill="#f5b844"/>
<rect x="37.00" y="523.40" width="43.45" height="2.20" fill="#f7ce73"/>
<rect x="37.00" y="524.60" width="43.45" height="13.40" fill="#fef4c6"/>
<rect x="37.00" y="537.00" width="43.45" height="9.60" fill="#f7ce73"/>
<rect x="37.00" y="545.60" width="43.45" height="4.70" fill="#f9dc94"/>
<rect x="37.00" y="549.30" width="43.45" height="12.10" fill="#f7ce73"/>
<rect x="37.00" y="560.40" width="43.45" height="4.20" fill="#f9dc94"/>
<rect x="37.00" y="563.60" width="43.45" height="5.20" fill="#f7ce73"/>
<rect x="37.00" y="567.80" width="43.45" height="3.40" fill="#f9dc94"/>
<rect x="37.00" y="570.20" width="43.45" height="13.30" fill="#f7ce73"/>
<rect x="37.00" y="582.50" width="43.45" height="8.50" fill="#fbe5a2"/>
<rect x="37.00" y="590.00" width="43.45" height="8.30" fill="#f7ce73"/>
<rect x="37.00" y="597.30" width="43.45" height="7.20" fill="#f9dc94"/>
<rect x="37.00" y="603.50" width="43.45" height="5.90" fill="#f7ce73"/>
<rect x="37.00" y="608.40" width="43.45" height="14.60" fill="#f9dc94"/>
<rect x="37.00" y="622.00" width="43.45" height="7.00" fill="#f7ce73"/>
<rect x="37.00" y="628.00" width="43.45" height="3.50" fill="#f9dc94"/>
<rect x="37.00" y="630.50" width="43.45" height="6.00" fill="#f7ce73"/>
<rect x="37.00" y="635.50" width="43.45" height="4.50" fill="#f9dc94"/>
<rect x="37.00" y="639.00" width="43.45" height="7.30" fill="#f7ce73"/>
<rect x="37.00" y="645.30" width="43.45" height="8.40" fill="#f9dc94"/>
<rect x="37.00" y="652.70" width="43.45" height="10.80" fill="#f7ce73"/>
<rect x="37.00" y="662.50" width="43.45" height="12.10" fill="#f9dc94"/>
<rect x="37.00" y="673.60" width="43.45" height="3.40" fill="#f7ce73"/>
<rect x="37.00" y="676.00" width="43.45" height="13.40" fill="#f9dc94"/>
<rect x="37.00" y="688.40" width="43.45" height="17.00" fill="#f7ce73"/>
<rect x="37.00" y="704.40" width="43.45" height="7.10" fill="#f9dc94"/>
<rect x="37.00" y="710.50" width="43.45" height="4.70" fill="#fbe5a2"/>
<rect x="37.00" y="714.20" width="43.45" height="28.10" fill="#f7ce73"/>
<rect x="37.00" y="741.30" width="43.45" height="10.70" fill="#f9dc94"/>
<rect x="37.00" y="751.00" width="43.45" height="4.80" fill="#f7ce73"/>
<rect x="37.00" y="754.80" width="43.45" height="9.70" fill="#f9dc94"/>
<rect x="37.00" y="763.50" width="43.45" height="10.80" fill="#fbe5a2"/>
<rect x="37.00" y="773.30" width="43.45" height="5.90" fill="#f7ce73"/>
<rect x="37.00" y="778.20" width="43.45" height="8.40" fill="#e0440a"/>
<rect x="37.00" y="785.60" width="43.45" height="4.70" fill="#e8620a"/>
<rect x="37.00" y="789.30" width="43.45" height="5.90" fill="#f5b844"/>
<rect x="37.00" y="794.20" width="43.45" height="7.20" fill="#f0860e"/>
<rect x="37.00" y="800.40" width="43.45" height="5.90" fill="#f9dc94"/>
<rect x="37.00" y="805.30" width="43.45" height="8.40" fill="#f7ce73"/>
<rect x="37.00" y="812.70" width="43.45" height="8.30" fill="#f9dc94"/>
<rect x="37.00" y="820.00" width="43.45" height="6.00" fill="#f7ce73"/>
<rect x="37.00" y="825.00" width="43.45" height="6.00" fill="#f4a01c"/>
<rect x="37.00" y="830.00" width="43.45" height="4.60" fill="#f9dc94"/>
<rect x="37.00" y="833.60" width="43.45" height="7.20" fill="#f5b844"/>
<rect x="37.00" y="839.80" width="43.45" height="5.90" fill="#f7ce73"/>
<rect x="37.00" y="844.70" width="43.45" height="8.30" fill="#f9dc94"/>
<rect x="37.00" y="852.00" width="43.45" height="4.80" fill="#f5b844"/>
<rect x="37.00" y="855.80" width="43.45" height="3.40" fill="#f9dc94"/>
<rect x="37.00" y="858.20" width="43.45" height="3.50" fill="#f4a01c"/>
<rect x="37.00" y="860.70" width="43.45" height="9.60" fill="#f9dc94"/>
<rect x="37.00" y="869.30" width="43.45" height="5.90" fill="#f7ce73"/>
<rect x="37.00" y="874.20" width="43.45" height="7.20" fill="#fbe5a2"/>
<rect x="37.00" y="880.40" width="43.45" height="4.60" fill="#e0440a"/>
<rect x="37.00" y="884.00" width="43.45" height="4.80" fill="#f9dc94"/>
<rect x="37.00" y="887.80" width="43.45" height="4.70" fill="#f5b844"/>
<rect x="37.00" y="891.50" width="43.45" height="7.10" fill="#f9dc94"/>
<rect x="37.00" y="897.60" width="43.45" height="7.20" fill="#f7ce73"/>
<rect x="37.00" y="903.80" width="43.45" height="3.20" fill="#e0440a"/>
<rect x="37.00" y="906.00" width="43.45" height="3.00" fill="#f0860e"/>
<rect x="79.45" y="484.70" width="43.45" height="1.30" fill="#f7ce73"/>
<rect x="79.45" y="485.00" width="43.45" height="3.00" fill="#f9dc94"/>
<rect x="79.45" y="487.00" width="43.45" height="21.00" fill="#f7ce73"/>
<rect x="79.45" y="507.00" width="43.45" height="4.00" fill="#f9dc94"/>
<rect x="79.45" y="510.00" width="43.45" height="7.00" fill="#f7ce73"/>
<rect x="79.45" y="516.00" width="43.45" height="6.00" fill="#f9dc94"/>
<rect x="79.45" y="521.00" width="43.45" height="2.00" fill="#f7ce73"/>
<rect x="79.45" y="522.00" width="43.45" height="5.00" fill="#e8620a"/>
<rect x="79.45" y="526.00" width="43.45" height="4.50" fill="#f9dc94"/>
<rect x="79.45" y="529.50" width="43.45" height="7.20" fill="#fef4c6"/>
<rect x="79.45" y="535.70" width="43.45" height="10.90" fill="#f7ce73"/>
<rect x="79.45" y="545.60" width="43.45" height="4.70" fill="#f9dc94"/>
<rect x="79.45" y="549.30" width="43.45" height="12.10" fill="#f7ce73"/>
<rect x="79.45" y="560.40" width="43.45" height="4.20" fill="#f9dc94"/>
<rect x="79.45" y="563.60" width="43.45" height="19.90" fill="#f7ce73"/>
<rect x="79.45" y="582.50" width="43.45" height="8.50" fill="#fbe5a2"/>
<rect x="79.45" y="590.00" width="43.45" height="8.30" fill="#f7ce73"/>
<rect x="79.45" y="597.30" width="43.45" height="7.20" fill="#f9dc94"/>
<rect x="79.45" y="603.50" width="43.45" height="5.90" fill="#f7ce73"/>
<rect x="79.45" y="608.40" width="43.45" height="14.60" fill="#f9dc94"/>
<rect x="79.45" y="622.00" width="43.45" height="6.00" fill="#f7ce73"/>
<rect x="79.45" y="627.00" width="43.45" height="10.70" fill="#f9dc94"/>
<rect x="79.45" y="636.70" width="43.45" height="7.30" fill="#fbe5a2"/>
<rect x="79.45" y="643.00" width="43.45" height="7.00" fill="#f7ce73"/>
<rect x="79.45" y="649.00" width="43.45" height="4.70" fill="#f9dc94"/>
<rect x="79.45" y="652.70" width="43.45" height="18.30" fill="#f7ce73"/>
<rect x="79.45" y="670.00" width="43.45" height="8.30" fill="#f9dc94"/>
<rect x="79.45" y="677.30" width="43.45" height="4.70" fill="#fbe5a2"/>
<rect x="79.45" y="681.00" width="43.45" height="4.70" fill="#f9dc94"/>
<rect x="79.45" y="684.70" width="43.45" height="4.70" fill="#f7ce73"/>
<rect x="79.45" y="688.40" width="43.45" height="9.60" fill="#f9dc94"/>
<rect x="79.45" y="697.00" width="43.45" height="38.00" fill="#f7ce73"/>
<rect x="79.45" y="734.00" width="43.45" height="4.60" fill="#f9dc94"/>
<rect x="79.45" y="737.60" width="43.45" height="4.70" fill="#f7ce73"/>
<rect x="79.45" y="741.30" width="43.45" height="8.40" fill="#f9dc94"/>
<rect x="79.45" y="748.70" width="43.45" height="14.50" fill="#f7ce73"/>
<rect x="79.45" y="762.20" width="43.45" height="12.10" fill="#f9dc94"/>
<rect x="79.45" y="773.30" width="43.45" height="5.90" fill="#f0860e"/>
<rect x="79.45" y="778.20" width="43.45" height="4.80" fill="#f5b844"/>
<rect x="79.45" y="782.00" width="43.45" height="7.00" fill="#f4a01c"/>
<rect x="79.45" y="788.00" width="43.45" height="6.00" fill="#c8260a"/>
<rect x="79.45" y="793.00" width="43.45" height="9.60" fill="#f0860e"/>
<rect x="79.45" y="801.60" width="43.45" height="9.60" fill="#f9dc94"/>
<rect x="79.45" y="810.20" width="43.45" height="8.40" fill="#fef4c6"/>
<rect x="79.45" y="817.60" width="43.45" height="8.40" fill="#f9dc94"/>
<rect x="79.45" y="825.00" width="43.45" height="8.40" fill="#f4a01c"/>
<rect x="79.45" y="832.40" width="43.45" height="5.90" fill="#f5b844"/>
<rect x="79.45" y="837.30" width="43.45" height="13.30" fill="#f9dc94"/>
<rect x="79.45" y="849.60" width="43.45" height="3.40" fill="#f4a01c"/>
<rect x="79.45" y="852.00" width="43.45" height="13.40" fill="#f9dc94"/>
<rect x="79.45" y="864.40" width="43.45" height="10.80" fill="#fbe5a2"/>
<rect x="79.45" y="874.20" width="43.45" height="10.80" fill="#f9dc94"/>
<rect x="79.45" y="884.00" width="43.45" height="8.50" fill="#f7ce73"/>
<rect x="79.45" y="891.50" width="43.45" height="7.10" fill="#f5b844"/>
<rect x="79.45" y="897.60" width="43.45" height="11.40" fill="#f9dc94"/>
<rect x="121.90" y="484.70" width="43.45" height="22.30" fill="#f7ce73"/>
<rect x="121.90" y="506.00" width="43.45" height="5.00" fill="#f5b844"/>
<rect x="121.90" y="510.00" width="43.45" height="10.70" fill="#f7ce73"/>
<rect x="121.90" y="519.70" width="43.45" height="4.70" fill="#f0860e"/>
<rect x="121.90" y="523.40" width="43.45" height="9.60" fill="#f4a01c"/>
<rect x="121.90" y="532.00" width="43.45" height="8.50" fill="#f5b844"/>
<rect x="121.90" y="539.50" width="43.45" height="7.10" fill="#f7ce73"/>
<rect x="121.90" y="545.60" width="43.45" height="3.40" fill="#f9dc94"/>
<rect x="121.90" y="548.00" width="43.45" height="22.00" fill="#f7ce73"/>
<rect x="121.90" y="569.00" width="43.45" height="3.50" fill="#f9dc94"/>
<rect x="121.90" y="571.50" width="43.45" height="28.00" fill="#f7ce73"/>
<rect x="121.90" y="598.50" width="43.45" height="6.00" fill="#f9dc94"/>
<rect x="121.90" y="603.50" width="43.45" height="10.80" fill="#f7ce73"/>
<rect x="121.90" y="613.30" width="43.45" height="4.70" fill="#f9dc94"/>
<rect x="121.90" y="617.00" width="43.45" height="12.00" fill="#f7ce73"/>
<rect x="121.90" y="628.00" width="43.45" height="4.80" fill="#f9dc94"/>
<rect x="121.90" y="631.80" width="43.45" height="3.20" fill="#f7ce73"/>
<rect x="121.90" y="634.00" width="43.45" height="5.00" fill="#f9dc94"/>
<rect x="121.90" y="638.00" width="43.45" height="3.40" fill="#f7ce73"/>
<rect x="121.90" y="640.40" width="43.45" height="3.40" fill="#f5b844"/>
<rect x="121.90" y="642.80" width="43.45" height="9.70" fill="#f7ce73"/>
<rect x="121.90" y="651.50" width="43.45" height="5.90" fill="#f9dc94"/>
<rect x="121.90" y="656.40" width="43.45" height="5.90" fill="#f7ce73"/>
<rect x="121.90" y="661.30" width="43.45" height="3.50" fill="#f5b844"/>
<rect x="121.90" y="663.80" width="43.45" height="10.80" fill="#f9dc94"/>
<rect x="121.90" y="673.60" width="43.45" height="4.70" fill="#f7ce73"/>
<rect x="121.90" y="677.30" width="43.45" height="8.40" fill="#f9dc94"/>
<rect x="121.90" y="684.70" width="43.45" height="4.70" fill="#f7ce73"/>
<rect x="121.90" y="688.40" width="43.45" height="9.60" fill="#f9dc94"/>
<rect x="121.90" y="697.00" width="43.45" height="13.30" fill="#f7ce73"/>
<rect x="121.90" y="709.30" width="43.45" height="5.90" fill="#f4a01c"/>
<rect x="121.90" y="714.20" width="43.45" height="28.10" fill="#f7ce73"/>
<rect x="121.90" y="741.30" width="43.45" height="4.70" fill="#f9dc94"/>
<rect x="121.90" y="745.00" width="43.45" height="19.50" fill="#f7ce73"/>
<rect x="121.90" y="763.50" width="43.45" height="3.50" fill="#e8620a"/>
<rect x="121.90" y="766.00" width="43.45" height="8.30" fill="#fbe5a2"/>
<rect x="121.90" y="773.30" width="43.45" height="5.90" fill="#80102a"/>
<rect x="121.90" y="778.20" width="43.45" height="4.80" fill="#e0440a"/>
<rect x="121.90" y="782.00" width="43.45" height="4.60" fill="#f0860e"/>
<rect x="121.90" y="785.60" width="43.45" height="4.70" fill="#c8260a"/>
<rect x="121.90" y="789.30" width="43.45" height="13.30" fill="#f0860e"/>
<rect x="121.90" y="801.60" width="43.45" height="14.40" fill="#f9dc94"/>
<rect x="121.90" y="815.00" width="43.45" height="6.00" fill="#f5b844"/>
<rect x="121.90" y="820.00" width="43.45" height="6.00" fill="#f9dc94"/>
<rect x="121.90" y="825.00" width="43.45" height="10.80" fill="#f4a01c"/>
<rect x="121.90" y="834.80" width="43.45" height="6.00" fill="#f5b844"/>
<rect x="121.90" y="839.80" width="43.45" height="10.80" fill="#f9dc94"/>
<rect x="121.90" y="849.60" width="43.45" height="4.70" fill="#e0440a"/>
<rect x="121.90" y="853.30" width="43.45" height="8.40" fill="#fbe5a2"/>
<rect x="121.90" y="860.70" width="43.45" height="7.10" fill="#f9dc94"/>
<rect x="121.90" y="866.80" width="43.45" height="10.90" fill="#f5b844"/>
<rect x="121.90" y="876.70" width="43.45" height="10.80" fill="#f4a01c"/>
<rect x="121.90" y="886.50" width="43.45" height="22.50" fill="#f9dc94"/>
<rect x="164.35" y="484.70" width="43.45" height="32.30" fill="#f7ce73"/>
<rect x="164.35" y="516.00" width="43.45" height="4.00" fill="#fbe5a2"/>
<rect x="164.35" y="519.00" width="43.45" height="4.00" fill="#f7ce73"/>
<rect x="164.35" y="522.00" width="43.45" height="6.00" fill="#fbe5a2"/>
<rect x="164.35" y="527.00" width="43.45" height="4.00" fill="#f9dc94"/>
<rect x="164.35" y="530.00" width="43.45" height="3.00" fill="#fbe5a2"/>
<rect x="164.35" y="532.00" width="43.45" height="15.40" fill="#f7ce73"/>
<rect x="164.35" y="546.40" width="43.45" height="3.90" fill="#f5b844"/>
<rect x="164.35" y="549.30" width="43.45" height="13.30" fill="#f7ce73"/>
<rect x="164.35" y="561.60" width="43.45" height="3.00" fill="#f5b844"/>
<rect x="164.35" y="563.60" width="43.45" height="6.40" fill="#f7ce73"/>
<rect x="164.35" y="569.00" width="43.45" height="3.00" fill="#f9dc94"/>
<rect x="164.35" y="571.00" width="43.45" height="12.50" fill="#f7ce73"/>
<rect x="164.35" y="582.50" width="43.45" height="8.50" fill="#fbe5a2"/>
<rect x="164.35" y="590.00" width="43.45" height="10.80" fill="#f7ce73"/>
<rect x="164.35" y="599.80" width="43.45" height="4.70" fill="#f9dc94"/>
<rect x="164.35" y="603.50" width="43.45" height="8.50" fill="#f7ce73"/>
<rect x="164.35" y="611.00" width="43.45" height="7.00" fill="#f9dc94"/>
<rect x="164.35" y="617.00" width="43.45" height="6.00" fill="#fbe5a2"/>
<rect x="164.35" y="622.00" width="43.45" height="7.00" fill="#f7ce73"/>
<rect x="164.35" y="628.00" width="43.45" height="8.50" fill="#f9dc94"/>
<rect x="164.35" y="635.50" width="43.45" height="4.50" fill="#f7ce73"/>
<rect x="164.35" y="639.00" width="43.45" height="6.00" fill="#f9dc94"/>
<rect x="164.35" y="644.00" width="43.45" height="7.20" fill="#f7ce73"/>
<rect x="164.35" y="650.20" width="43.45" height="7.20" fill="#f9dc94"/>
<rect x="164.35" y="656.40" width="43.45" height="8.40" fill="#f7ce73"/>
<rect x="164.35" y="663.80" width="43.45" height="12.00" fill="#fbe5a2"/>
<rect x="164.35" y="674.80" width="43.45" height="3.50" fill="#f7ce73"/>
<rect x="164.35" y="677.30" width="43.45" height="8.40" fill="#f9dc94"/>
<rect x="164.35" y="684.70" width="43.45" height="4.70" fill="#f7ce73"/>
<rect x="164.35" y="688.40" width="43.45" height="9.60" fill="#f9dc94"/>
<rect x="164.35" y="697.00" width="43.45" height="11.00" fill="#f7ce73"/>
<rect x="164.35" y="707.00" width="43.45" height="3.30" fill="#f9dc94"/>
<rect x="164.35" y="709.30" width="43.45" height="7.20" fill="#fbe5a2"/>
<rect x="164.35" y="715.50" width="43.45" height="28.00" fill="#f7ce73"/>
<rect x="164.35" y="742.50" width="43.45" height="8.50" fill="#f9dc94"/>
<rect x="164.35" y="750.00" width="43.45" height="13.20" fill="#f7ce73"/>
<rect x="164.35" y="762.20" width="43.45" height="12.10" fill="#c8260a"/>
<rect x="164.35" y="773.30" width="43.45" height="4.70" fill="#f4a01c"/>
<rect x="164.35" y="777.00" width="43.45" height="4.70" fill="#f9dc94"/>
<rect x="164.35" y="780.70" width="43.45" height="5.90" fill="#f5b844"/>
<rect x="164.35" y="785.60" width="43.45" height="4.70" fill="#f0860e"/>
<rect x="164.35" y="789.30" width="43.45" height="5.90" fill="#f9dc94"/>
<rect x="164.35" y="794.20" width="43.45" height="8.40" fill="#c8260a"/>
<rect x="164.35" y="801.60" width="43.45" height="5.90" fill="#f9dc94"/>
<rect x="164.35" y="806.50" width="43.45" height="7.20" fill="#fbe5a2"/>
<rect x="164.35" y="812.70" width="43.45" height="8.30" fill="#f9dc94"/>
<rect x="164.35" y="820.00" width="43.45" height="3.50" fill="#f7ce73"/>
<rect x="164.35" y="822.50" width="43.45" height="4.70" fill="#f0860e"/>
<rect x="164.35" y="826.20" width="43.45" height="8.40" fill="#f9dc94"/>
<rect x="164.35" y="833.60" width="43.45" height="8.40" fill="#f5b844"/>
<rect x="164.35" y="841.00" width="43.45" height="8.40" fill="#f9dc94"/>
<rect x="164.35" y="848.40" width="43.45" height="4.60" fill="#f4a01c"/>
<rect x="164.35" y="852.00" width="43.45" height="7.20" fill="#fbe5a2"/>
<rect x="164.35" y="858.20" width="43.45" height="12.10" fill="#f9dc94"/>
<rect x="164.35" y="869.30" width="43.45" height="8.40" fill="#fbe5a2"/>
<rect x="164.35" y="876.70" width="43.45" height="12.10" fill="#fef4c6"/>
<rect x="164.35" y="887.80" width="43.45" height="7.20" fill="#f9dc94"/>
<rect x="164.35" y="894.00" width="43.45" height="10.80" fill="#fbe5a2"/>
<rect x="164.35" y="903.80" width="43.45" height="5.20" fill="#f9dc94"/>
<rect x="206.80" y="484.70" width="43.45" height="1.30" fill="#f7ce73"/>
<rect x="206.80" y="485.00" width="43.45" height="4.70" fill="#f9dc94"/>
<rect x="206.80" y="488.70" width="43.45" height="28.30" fill="#f7ce73"/>
<rect x="206.80" y="516.00" width="43.45" height="3.50" fill="#f5b844"/>
<rect x="206.80" y="518.50" width="43.45" height="5.90" fill="#f9dc94"/>
<rect x="206.80" y="523.40" width="43.45" height="5.90" fill="#f7ce73"/>
<rect x="206.80" y="528.30" width="43.45" height="9.70" fill="#f5b844"/>
<rect x="206.80" y="537.00" width="43.45" height="10.80" fill="#f7ce73"/>
<rect x="206.80" y="546.80" width="43.45" height="3.50" fill="#f9dc94"/>
<rect x="206.80" y="549.30" width="43.45" height="35.50" fill="#f7ce73"/>
<rect x="206.80" y="583.80" width="43.45" height="7.20" fill="#f5b844"/>
<rect x="206.80" y="590.00" width="43.45" height="10.80" fill="#f7ce73"/>
<rect x="206.80" y="599.80" width="43.45" height="4.70" fill="#f4a01c"/>
<rect x="206.80" y="603.50" width="43.45" height="28.00" fill="#f7ce73"/>
<rect x="206.80" y="630.50" width="43.45" height="6.00" fill="#f9dc94"/>
<rect x="206.80" y="635.50" width="43.45" height="4.50" fill="#f7ce73"/>
<rect x="206.80" y="639.00" width="43.45" height="5.00" fill="#f9dc94"/>
<rect x="206.80" y="643.00" width="43.45" height="5.80" fill="#f7ce73"/>
<rect x="206.80" y="647.80" width="43.45" height="3.40" fill="#f5b844"/>
<rect x="206.80" y="650.20" width="43.45" height="11.80" fill="#f7ce73"/>
<rect x="206.80" y="661.00" width="43.45" height="3.00" fill="#f9dc94"/>
<rect x="206.80" y="663.00" width="43.45" height="12.80" fill="#f7ce73"/>
<rect x="206.80" y="674.80" width="43.45" height="4.70" fill="#f4a01c"/>
<rect x="206.80" y="678.50" width="43.45" height="6.00" fill="#f7ce73"/>
<rect x="206.80" y="683.50" width="43.45" height="5.90" fill="#f9dc94"/>
<rect x="206.80" y="688.40" width="43.45" height="21.90" fill="#f7ce73"/>
<rect x="206.80" y="709.30" width="43.45" height="7.20" fill="#f5b844"/>
<rect x="206.80" y="715.50" width="43.45" height="7.10" fill="#f9dc94"/>
<rect x="206.80" y="721.60" width="43.45" height="21.90" fill="#f7ce73"/>
<rect x="206.80" y="742.50" width="43.45" height="6.00" fill="#f5b844"/>
<rect x="206.80" y="747.50" width="43.45" height="15.70" fill="#f7ce73"/>
<rect x="206.80" y="762.20" width="43.45" height="9.60" fill="#f9dc94"/>
<rect x="206.80" y="770.80" width="43.45" height="10.90" fill="#fbe5a2"/>
<rect x="206.80" y="780.70" width="43.45" height="5.90" fill="#f9dc94"/>
<rect x="206.80" y="785.60" width="43.45" height="5.90" fill="#f4a01c"/>
<rect x="206.80" y="790.50" width="43.45" height="10.90" fill="#f5b844"/>
<rect x="206.80" y="800.40" width="43.45" height="5.90" fill="#aa160c"/>
<rect x="206.80" y="805.30" width="43.45" height="8.40" fill="#e0440a"/>
<rect x="206.80" y="812.70" width="43.45" height="5.90" fill="#c8260a"/>
<rect x="206.80" y="817.60" width="43.45" height="5.90" fill="#f0860e"/>
<rect x="206.80" y="822.50" width="43.45" height="8.50" fill="#c8260a"/>
<rect x="206.80" y="830.00" width="43.45" height="7.00" fill="#e0440a"/>
<rect x="206.80" y="836.00" width="43.45" height="3.50" fill="#80102a"/>
<rect x="206.80" y="838.50" width="43.45" height="4.80" fill="#f0860e"/>
<rect x="206.80" y="842.30" width="43.45" height="5.70" fill="#e0440a"/>
<rect x="206.80" y="847.00" width="43.45" height="3.60" fill="#f9dc94"/>
<rect x="206.80" y="849.60" width="43.45" height="5.90" fill="#f4a01c"/>
<rect x="206.80" y="854.50" width="43.45" height="10.90" fill="#f9dc94"/>
<rect x="206.80" y="864.40" width="43.45" height="5.90" fill="#f0860e"/>
<rect x="206.80" y="869.30" width="43.45" height="9.70" fill="#f5b844"/>
<rect x="206.80" y="878.00" width="43.45" height="4.60" fill="#e8620a"/>
<rect x="206.80" y="881.60" width="43.45" height="10.90" fill="#f7ce73"/>
<rect x="206.80" y="891.50" width="43.45" height="5.90" fill="#e0440a"/>
<rect x="206.80" y="896.40" width="43.45" height="5.90" fill="#e8620a"/>
<rect x="206.80" y="901.30" width="43.45" height="5.90" fill="#e0440a"/>
<rect x="206.80" y="906.20" width="43.45" height="2.80" fill="#f0860e"/>
<rect x="249.25" y="484.70" width="43.45" height="1.30" fill="#f7ce73"/>
<rect x="249.25" y="485.00" width="43.45" height="3.50" fill="#f5b844"/>
<rect x="249.25" y="487.50" width="43.45" height="2.50" fill="#f7ce73"/>
<rect x="249.25" y="489.00" width="43.45" height="4.60" fill="#f5b844"/>
<rect x="249.25" y="492.60" width="43.45" height="24.40" fill="#f7ce73"/>
<rect x="249.25" y="516.00" width="43.45" height="4.70" fill="#f5b844"/>
<rect x="249.25" y="519.70" width="43.45" height="7.10" fill="#f9dc94"/>
<rect x="249.25" y="525.80" width="43.45" height="12.20" fill="#f4a01c"/>
<rect x="249.25" y="537.00" width="43.45" height="10.40" fill="#f7ce73"/>
<rect x="249.25" y="546.40" width="43.45" height="3.90" fill="#f5b844"/>
<rect x="249.25" y="549.30" width="43.45" height="82.20" fill="#f7ce73"/>
<rect x="249.25" y="630.50" width="43.45" height="4.70" fill="#f5b844"/>
<rect x="249.25" y="634.20" width="43.45" height="4.80" fill="#f7ce73"/>
<rect x="249.25" y="638.00" width="43.45" height="3.40" fill="#f5b844"/>
<rect x="249.25" y="640.40" width="43.45" height="9.60" fill="#f7ce73"/>
<rect x="249.25" y="649.00" width="43.45" height="3.50" fill="#f5b844"/>
<rect x="249.25" y="651.50" width="43.45" height="18.20" fill="#f7ce73"/>
<rect x="249.25" y="668.70" width="43.45" height="7.10" fill="#f4a01c"/>
<rect x="249.25" y="674.80" width="43.45" height="9.70" fill="#f7ce73"/>
<rect x="249.25" y="683.50" width="43.45" height="5.90" fill="#f4a01c"/>
<rect x="249.25" y="688.40" width="43.45" height="21.90" fill="#f7ce73"/>
<rect x="249.25" y="709.30" width="43.45" height="7.20" fill="#f0860e"/>
<rect x="249.25" y="715.50" width="43.45" height="24.30" fill="#f5b844"/>
<rect x="249.25" y="738.80" width="43.45" height="18.20" fill="#f9dc94"/>
<rect x="249.25" y="756.00" width="43.45" height="7.20" fill="#f5b844"/>
<rect x="249.25" y="762.20" width="43.45" height="3.50" fill="#e8620a"/>
<rect x="249.25" y="764.70" width="43.45" height="17.00" fill="#f9dc94"/>
<rect x="249.25" y="780.70" width="43.45" height="4.70" fill="#fbe5a2"/>
<rect x="249.25" y="784.40" width="43.45" height="3.40" fill="#f0860e"/>
<rect x="249.25" y="786.80" width="43.45" height="8.40" fill="#f5b844"/>
<rect x="249.25" y="794.20" width="43.45" height="8.40" fill="#f9dc94"/>
<rect x="249.25" y="801.60" width="43.45" height="5.90" fill="#e8620a"/>
<rect x="249.25" y="806.50" width="43.45" height="7.20" fill="#f4a01c"/>
<rect x="249.25" y="812.70" width="43.45" height="5.90" fill="#c8260a"/>
<rect x="249.25" y="817.60" width="43.45" height="5.90" fill="#f0860e"/>
<rect x="249.25" y="822.50" width="43.45" height="8.50" fill="#f4a01c"/>
<rect x="249.25" y="830.00" width="43.45" height="5.80" fill="#f0860e"/>
<rect x="249.25" y="834.80" width="43.45" height="10.90" fill="#f4a01c"/>
<rect x="249.25" y="844.70" width="43.45" height="8.30" fill="#f5b844"/>
<rect x="249.25" y="852.00" width="43.45" height="8.50" fill="#fbe5a2"/>
<rect x="249.25" y="859.50" width="43.45" height="10.80" fill="#f4a01c"/>
<rect x="249.25" y="869.30" width="43.45" height="12.10" fill="#f5b844"/>
<rect x="249.25" y="880.40" width="43.45" height="4.60" fill="#f7ce73"/>
<rect x="249.25" y="884.00" width="43.45" height="8.50" fill="#e0440a"/>
<rect x="249.25" y="891.50" width="43.45" height="17.50" fill="#f0860e"/>
<rect x="291.70" y="484.70" width="43.45" height="25.10" fill="#f7ce73"/>
<rect x="291.70" y="508.80" width="43.45" height="3.50" fill="#f9dc94"/>
<rect x="291.70" y="511.30" width="43.45" height="5.90" fill="#f7ce73"/>
<rect x="291.70" y="516.20" width="43.45" height="3.50" fill="#e8620a"/>
<rect x="291.70" y="518.70" width="43.45" height="4.80" fill="#f4a01c"/>
<rect x="291.70" y="522.50" width="43.45" height="3.50" fill="#f9dc94"/>
<rect x="291.70" y="525.00" width="43.45" height="4.70" fill="#f5b844"/>
<rect x="291.70" y="528.70" width="43.45" height="4.70" fill="#f9dc94"/>
<rect x="291.70" y="532.40" width="43.45" height="5.60" fill="#fbe5a2"/>
<rect x="291.70" y="537.00" width="43.45" height="10.40" fill="#f7ce73"/>
<rect x="291.70" y="546.40" width="43.45" height="3.90" fill="#fbe5a2"/>
<rect x="291.70" y="549.30" width="43.45" height="36.70" fill="#f7ce73"/>
<rect x="291.70" y="585.00" width="43.45" height="6.00" fill="#f5b844"/>
<rect x="291.70" y="590.00" width="43.45" height="39.00" fill="#f7ce73"/>
<rect x="291.70" y="628.00" width="43.45" height="3.50" fill="#f5b844"/>
<rect x="291.70" y="630.50" width="43.45" height="9.50" fill="#f9dc94"/>
<rect x="291.70" y="639.00" width="43.45" height="3.60" fill="#f5b844"/>
<rect x="291.70" y="641.60" width="43.45" height="20.70" fill="#f7ce73"/>
<rect x="291.70" y="661.30" width="43.45" height="4.70" fill="#fbe5a2"/>
<rect x="291.70" y="665.00" width="43.45" height="6.00" fill="#f5b844"/>
<rect x="291.70" y="670.00" width="43.45" height="6.00" fill="#f9dc94"/>
<rect x="291.70" y="675.00" width="43.45" height="3.30" fill="#f5b844"/>
<rect x="291.70" y="677.30" width="43.45" height="5.90" fill="#f9dc94"/>
<rect x="291.70" y="682.20" width="43.45" height="3.50" fill="#fbe5a2"/>
<rect x="291.70" y="684.70" width="43.45" height="13.30" fill="#f9dc94"/>
<rect x="291.70" y="697.00" width="43.45" height="49.40" fill="#f7ce73"/>
<rect x="291.70" y="745.40" width="43.45" height="5.90" fill="#f5b844"/>
<rect x="291.70" y="750.30" width="43.45" height="13.40" fill="#f7ce73"/>
<rect x="291.70" y="762.70" width="43.45" height="9.70" fill="#f9dc94"/>
<rect x="291.70" y="771.40" width="43.45" height="4.60" fill="#f4a01c"/>
<rect x="291.70" y="775.00" width="43.45" height="6.00" fill="#f5b844"/>
<rect x="291.70" y="780.00" width="43.45" height="6.00" fill="#f9dc94"/>
<rect x="291.70" y="785.00" width="43.45" height="4.80" fill="#f4a01c"/>
<rect x="291.70" y="788.80" width="43.45" height="5.90" fill="#f0860e"/>
<rect x="291.70" y="793.70" width="43.45" height="8.50" fill="#f9dc94"/>
<rect x="291.70" y="801.20" width="43.45" height="6.00" fill="#f0860e"/>
<rect x="291.70" y="806.20" width="43.45" height="4.70" fill="#e0440a"/>
<rect x="291.70" y="809.90" width="43.45" height="5.90" fill="#f0860e"/>
<rect x="291.70" y="814.80" width="43.45" height="7.20" fill="#c8260a"/>
<rect x="291.70" y="821.00" width="43.45" height="3.50" fill="#f0860e"/>
<rect x="291.70" y="823.50" width="43.45" height="7.20" fill="#f5b844"/>
<rect x="291.70" y="829.70" width="43.45" height="5.90" fill="#f4a01c"/>
<rect x="291.70" y="834.60" width="43.45" height="4.80" fill="#e0440a"/>
<rect x="291.70" y="838.40" width="43.45" height="8.40" fill="#80102a"/>
<rect x="291.70" y="845.80" width="43.45" height="7.20" fill="#aa160c"/>
<rect x="291.70" y="852.00" width="43.45" height="4.80" fill="#e0440a"/>
<rect x="291.70" y="855.80" width="43.45" height="5.90" fill="#f4a01c"/>
<rect x="291.70" y="860.70" width="43.45" height="8.50" fill="#f0860e"/>
<rect x="291.70" y="868.20" width="43.45" height="8.40" fill="#f4a01c"/>
<rect x="291.70" y="875.60" width="43.45" height="6.00" fill="#f5b844"/>
<rect x="291.70" y="880.60" width="43.45" height="5.90" fill="#f9dc94"/>
<rect x="291.70" y="885.50" width="43.45" height="11.00" fill="#f0860e"/>
<rect x="291.70" y="895.50" width="43.45" height="5.90" fill="#f4a01c"/>
<rect x="291.70" y="900.40" width="43.45" height="8.60" fill="#f0860e"/>
<rect x="334.15" y="484.70" width="43.45" height="15.20" fill="#f4a01c"/>
<rect x="334.15" y="498.90" width="43.45" height="9.70" fill="#f5b844"/>
<rect x="334.15" y="507.60" width="43.45" height="3.40" fill="#f9dc94"/>
<rect x="334.15" y="510.00" width="43.45" height="7.20" fill="#f4a01c"/>
<rect x="334.15" y="516.20" width="43.45" height="8.50" fill="#f9dc94"/>
<rect x="334.15" y="523.70" width="43.45" height="9.70" fill="#f5b844"/>
<rect x="334.15" y="532.40" width="43.45" height="5.90" fill="#e8620a"/>
<rect x="334.15" y="537.30" width="43.45" height="13.40" fill="#f4a01c"/>
<rect x="334.15" y="549.70" width="43.45" height="9.70" fill="#f5b844"/>
<rect x="334.15" y="558.40" width="43.45" height="6.00" fill="#f7ce73"/>
<rect x="334.15" y="563.40" width="43.45" height="20.80" fill="#f5b844"/>
<rect x="334.15" y="583.20" width="43.45" height="8.50" fill="#f4a01c"/>
<rect x="334.15" y="590.70" width="43.45" height="9.70" fill="#f0860e"/>
<rect x="334.15" y="599.40" width="43.45" height="4.60" fill="#e8620a"/>
<rect x="334.15" y="603.00" width="43.45" height="6.00" fill="#f0860e"/>
<rect x="334.15" y="608.00" width="43.45" height="6.00" fill="#e8620a"/>
<rect x="334.15" y="613.00" width="43.45" height="7.50" fill="#f0860e"/>
<rect x="334.15" y="619.50" width="43.45" height="7.10" fill="#e8620a"/>
<rect x="334.15" y="625.60" width="43.45" height="4.70" fill="#f5b844"/>
<rect x="334.15" y="629.30" width="43.45" height="12.10" fill="#e8620a"/>
<rect x="334.15" y="640.40" width="43.45" height="4.60" fill="#f4a01c"/>
<rect x="334.15" y="644.00" width="43.45" height="4.00" fill="#f0860e"/>
<rect x="334.15" y="647.00" width="43.45" height="4.00" fill="#f4a01c"/>
<rect x="334.15" y="650.00" width="43.45" height="7.40" fill="#e8620a"/>
<rect x="334.15" y="656.40" width="43.45" height="8.40" fill="#f0860e"/>
<rect x="334.15" y="663.80" width="43.45" height="10.80" fill="#c8260a"/>
<rect x="334.15" y="673.60" width="43.45" height="4.70" fill="#e0440a"/>
<rect x="334.15" y="677.30" width="43.45" height="7.20" fill="#aa160c"/>
<rect x="334.15" y="683.50" width="43.45" height="14.50" fill="#e0440a"/>
<rect x="334.15" y="697.00" width="43.45" height="5.00" fill="#aa160c"/>
<rect x="334.15" y="701.00" width="43.45" height="8.60" fill="#e0440a"/>
<rect x="334.15" y="708.60" width="43.45" height="2.40" fill="#aa160c"/>
<rect x="334.15" y="710.00" width="43.45" height="34.30" fill="#80102a"/>
<rect x="334.15" y="743.30" width="43.45" height="20.40" fill="#aa160c"/>
<rect x="334.15" y="762.70" width="43.45" height="11.00" fill="#e0440a"/>
<rect x="334.15" y="772.70" width="43.45" height="4.70" fill="#f4a01c"/>
<rect x="334.15" y="776.40" width="43.45" height="5.90" fill="#f9dc94"/>
<rect x="334.15" y="781.30" width="43.45" height="6.00" fill="#f5b844"/>
<rect x="334.15" y="786.30" width="43.45" height="8.40" fill="#fbe5a2"/>
<rect x="334.15" y="793.70" width="43.45" height="6.00" fill="#f9dc94"/>
<rect x="334.15" y="798.70" width="43.45" height="8.50" fill="#f4a01c"/>
<rect x="334.15" y="806.20" width="43.45" height="7.20" fill="#f5b844"/>
<rect x="334.15" y="812.40" width="43.45" height="4.70" fill="#f4a01c"/>
<rect x="334.15" y="816.10" width="43.45" height="5.90" fill="#f9dc94"/>
<rect x="334.15" y="821.00" width="43.45" height="12.20" fill="#f4a01c"/>
<rect x="334.15" y="832.20" width="43.45" height="14.60" fill="#f9dc94"/>
<rect x="334.15" y="845.80" width="43.45" height="9.70" fill="#fbe5a2"/>
<rect x="334.15" y="854.50" width="43.45" height="7.20" fill="#c8260a"/>
<rect x="334.15" y="860.70" width="43.45" height="8.50" fill="#aa160c"/>
<rect x="334.15" y="868.20" width="43.45" height="8.40" fill="#80102a"/>
<rect x="334.15" y="875.60" width="43.45" height="7.20" fill="#e8620a"/>
<rect x="334.15" y="881.80" width="43.45" height="7.20" fill="#e0440a"/>
<rect x="334.15" y="888.00" width="43.45" height="8.50" fill="#c8260a"/>
<rect x="334.15" y="895.50" width="43.45" height="5.90" fill="#e0440a"/>
<rect x="334.15" y="900.40" width="43.45" height="6.00" fill="#aa160c"/>
<rect x="334.15" y="905.40" width="43.45" height="3.60" fill="#e0440a"/>
<rect x="376.60" y="484.70" width="43.45" height="1.30" fill="#c8260a"/>
<rect x="376.60" y="485.00" width="43.45" height="5.00" fill="#e0440a"/>
<rect x="376.60" y="489.00" width="43.45" height="10.90" fill="#e8620a"/>
<rect x="376.60" y="498.90" width="43.45" height="7.10" fill="#e0440a"/>
<rect x="376.60" y="505.00" width="43.45" height="4.80" fill="#f0860e"/>
<rect x="376.60" y="508.80" width="43.45" height="8.40" fill="#f4a01c"/>
<rect x="376.60" y="516.20" width="43.45" height="6.00" fill="#aa160c"/>
<rect x="376.60" y="521.20" width="43.45" height="15.80" fill="#e0440a"/>
<rect x="376.60" y="536.00" width="43.45" height="28.40" fill="#c8260a"/>
<rect x="376.60" y="563.40" width="43.45" height="13.40" fill="#aa160c"/>
<rect x="376.60" y="575.80" width="43.45" height="7.20" fill="#c8260a"/>
<rect x="376.60" y="582.00" width="43.45" height="4.70" fill="#aa160c"/>
<rect x="376.60" y="585.70" width="43.45" height="15.90" fill="#c8260a"/>
<rect x="376.60" y="600.60" width="43.45" height="5.90" fill="#aa160c"/>
<rect x="376.60" y="605.50" width="43.45" height="12.50" fill="#c8260a"/>
<rect x="376.60" y="617.00" width="43.45" height="6.00" fill="#e0440a"/>
<rect x="376.60" y="622.00" width="43.45" height="8.30" fill="#80102a"/>
<rect x="376.60" y="629.30" width="43.45" height="12.10" fill="#e8620a"/>
<rect x="376.60" y="640.40" width="43.45" height="4.60" fill="#c8260a"/>
<rect x="376.60" y="644.00" width="43.45" height="11.00" fill="#e0440a"/>
<rect x="376.60" y="654.00" width="43.45" height="19.40" fill="#e8620a"/>
<rect x="376.60" y="672.40" width="43.45" height="5.90" fill="#f4a01c"/>
<rect x="376.60" y="677.30" width="43.45" height="7.20" fill="#f0860e"/>
<rect x="376.60" y="683.50" width="43.45" height="14.50" fill="#e0440a"/>
<rect x="376.60" y="697.00" width="43.45" height="13.30" fill="#f4a01c"/>
<rect x="376.60" y="709.30" width="43.45" height="4.60" fill="#f5b844"/>
<rect x="376.60" y="712.90" width="43.45" height="5.50" fill="#f9dc94"/>
<rect x="376.60" y="717.40" width="43.45" height="6.30" fill="#f5b844"/>
<rect x="376.60" y="722.70" width="43.45" height="4.60" fill="#f4a01c"/>
<rect x="376.60" y="726.30" width="43.45" height="4.70" fill="#f5b844"/>
<rect x="376.60" y="730.00" width="43.45" height="15.10" fill="#f4a01c"/>
<rect x="376.60" y="744.10" width="43.45" height="6.00" fill="#e8620a"/>
<rect x="376.60" y="749.10" width="43.45" height="10.90" fill="#f0860e"/>
<rect x="376.60" y="759.00" width="43.45" height="6.00" fill="#e8620a"/>
<rect x="376.60" y="764.00" width="43.45" height="8.40" fill="#f5b844"/>
<rect x="376.60" y="771.40" width="43.45" height="6.00" fill="#f9dc94"/>
<rect x="376.60" y="776.40" width="43.45" height="5.90" fill="#f4a01c"/>
<rect x="376.60" y="781.30" width="43.45" height="19.70" fill="#fef4c6"/>
<rect x="376.60" y="800.00" width="43.45" height="22.00" fill="#fbe5a2"/>
<rect x="376.60" y="821.00" width="43.45" height="6.00" fill="#f9dc94"/>
<rect x="376.60" y="826.00" width="43.45" height="11.00" fill="#fef4c6"/>
<rect x="376.60" y="836.00" width="43.45" height="10.80" fill="#f9dc94"/>
<rect x="376.60" y="845.80" width="43.45" height="5.20" fill="#fbe5a2"/>
<rect x="376.60" y="850.00" width="43.45" height="3.00" fill="#f7ce73"/>
<rect x="376.60" y="852.00" width="43.45" height="13.40" fill="#f5b844"/>
<rect x="376.60" y="864.40" width="43.45" height="5.90" fill="#f9dc94"/>
<rect x="376.60" y="869.30" width="43.45" height="8.50" fill="#f4a01c"/>
<rect x="376.60" y="876.80" width="43.45" height="3.50" fill="#f5b844"/>
<rect x="376.60" y="879.30" width="43.45" height="3.70" fill="#f9dc94"/>
<rect x="376.60" y="882.00" width="43.45" height="7.00" fill="#fbe5a2"/>
<rect x="376.60" y="888.00" width="43.45" height="8.50" fill="#f9dc94"/>
<rect x="376.60" y="895.50" width="43.45" height="13.50" fill="#fbe5a2"/>
<rect x="419.05" y="484.70" width="42.45" height="1.30" fill="#c8260a"/>
<rect x="419.05" y="485.00" width="42.45" height="26.00" fill="#aa160c"/>
<rect x="419.05" y="510.00" width="42.45" height="8.00" fill="#6e0e34"/>
<rect x="419.05" y="517.00" width="42.45" height="5.50" fill="#e0440a"/>
<rect x="419.05" y="521.50" width="42.45" height="5.50" fill="#c8260a"/>
<rect x="419.05" y="526.00" width="42.45" height="5.60" fill="#aa160c"/>
<rect x="419.05" y="530.60" width="42.45" height="7.80" fill="#e0440a"/>
<rect x="419.05" y="537.40" width="42.45" height="27.10" fill="#c8260a"/>
<rect x="419.05" y="563.50" width="42.45" height="12.50" fill="#e0440a"/>
<rect x="419.05" y="575.00" width="42.45" height="9.00" fill="#c8260a"/>
<rect x="419.05" y="583.00" width="42.45" height="13.40" fill="#e0440a"/>
<rect x="419.05" y="595.40" width="42.45" height="13.60" fill="#c8260a"/>
<rect x="419.05" y="608.00" width="42.45" height="14.50" fill="#e0440a"/>
<rect x="419.05" y="621.50" width="42.45" height="10.10" fill="#f0860e"/>
<rect x="419.05" y="630.60" width="42.45" height="26.00" fill="#c8260a"/>
<rect x="419.05" y="655.60" width="42.45" height="8.90" fill="#aa160c"/>
<rect x="419.05" y="663.50" width="42.45" height="10.10" fill="#e0440a"/>
<rect x="419.05" y="672.60" width="42.45" height="7.90" fill="#e8620a"/>
<rect x="419.05" y="679.50" width="42.45" height="8.90" fill="#f0860e"/>
<rect x="419.05" y="687.40" width="42.45" height="10.60" fill="#e0440a"/>
<rect x="419.05" y="697.00" width="42.45" height="13.40" fill="#c8260a"/>
<rect x="419.05" y="709.40" width="42.45" height="15.60" fill="#f5b844"/>
<rect x="419.05" y="724.00" width="42.45" height="8.00" fill="#f4a01c"/>
<rect x="419.05" y="731.00" width="42.45" height="12.20" fill="#f0860e"/>
<rect x="419.05" y="742.20" width="42.45" height="14.60" fill="#e8620a"/>
<rect x="419.05" y="755.80" width="42.45" height="8.90" fill="#f0860e"/>
<rect x="419.05" y="763.70" width="42.45" height="11.30" fill="#f4a01c"/>
<rect x="419.05" y="774.00" width="42.45" height="4.30" fill="#f5b844"/>
<rect x="419.05" y="777.30" width="42.45" height="5.50" fill="#e8620a"/>
<rect x="419.05" y="781.80" width="42.45" height="3.20" fill="#f4a01c"/>
<rect x="419.05" y="784.00" width="42.45" height="27.00" fill="#fbe5a2"/>
<rect x="419.05" y="810.00" width="42.45" height="3.40" fill="#f5b844"/>
<rect x="419.05" y="812.40" width="42.45" height="41.60" fill="#fbe5a2"/>
<rect x="419.05" y="853.00" width="42.45" height="5.60" fill="#e8620a"/>
<rect x="419.05" y="857.60" width="42.45" height="7.80" fill="#f4a01c"/>
<rect x="419.05" y="864.40" width="42.45" height="14.60" fill="#f5b844"/>
<rect x="419.05" y="878.00" width="42.45" height="4.40" fill="#f4a01c"/>
<rect x="419.05" y="881.40" width="42.45" height="13.60" fill="#f9dc94"/>
<rect x="419.05" y="894.00" width="42.45" height="15.00" fill="#fbe5a2"/>
<g font-size="8.50" fill="#111" stroke="#111" stroke-width="0.28"><text x="465.50" y="19.60">IL15RA</text>
<text x="465.50" y="27.36">BTG2</text>
<text x="465.50" y="35.12">CMKLR1</text>
<text x="465.50" y="42.88">ACVR2A</text>
<text x="465.50" y="50.64">IRF1</text>
<text x="465.50" y="58.40">MARCO</text>
<text x="465.50" y="66.16">LDLR</text>
<text x="465.50" y="73.92">LDLR</text>
<text x="465.50" y="81.68">PTAFR</text>
<text x="465.50" y="89.44">P2RX4</text>
<text x="465.50" y="97.20">NLRP3</text>
<text x="465.50" y="104.96">TNFRSF1B</text>
<text x="465.50" y="112.72">P2RX7</text>
<text x="465.50" y="120.48">P2RX7</text>
<text x="465.50" y="128.24">CD14</text>
<text x="465.50" y="136.00">TAPBP</text>
<text x="465.50" y="143.76">P2RX7</text>
<text x="465.50" y="151.52">RELA</text>
<text x="465.50" y="159.28">KLF6</text>
<text x="465.50" y="167.04">PLAUR</text>
<text x="465.50" y="174.80">TAPBP</text>
<text x="465.50" y="182.56">PDE4B</text>
<text x="465.50" y="190.32">SRI</text>
<text x="465.50" y="198.08">IL10RA</text>
<text x="465.50" y="205.84">SRI</text>
<text x="465.50" y="213.60">PIK3R5</text>
<text x="465.50" y="221.36">RASGRP1</text>
<text x="465.50" y="229.12">MXD1</text>
<text x="465.50" y="236.88">GCH1</text>
<text x="465.50" y="244.64">IL7R</text>
<text x="465.50" y="252.40">GPR183</text>
<text x="465.50" y="260.16">TLR1</text>
<text x="465.50" y="267.92">TNFSF10</text>
<text x="465.50" y="275.68">ABI1</text>
<text x="465.50" y="283.44">ABI1</text>
<text x="465.50" y="291.20">ABI1</text>
<text x="465.50" y="298.96">CDKN1A</text>
<text x="465.50" y="306.72">VIP</text>
<text x="465.50" y="314.48">ATP2C1</text>
<text x="465.50" y="322.24">ATP2C1</text>
<text x="465.50" y="330.00">KIF1B</text>
<text x="465.50" y="337.76">CD82</text>
<text x="465.50" y="345.52">KIF1B</text>
<text x="465.50" y="353.28">KCNA3</text>
<text x="465.50" y="361.04">SLC11A2</text>
<text x="465.50" y="368.80">SLC11A2</text>
<text x="465.50" y="376.56">SCARF1</text>
<text x="465.50" y="384.32">SERPINE1</text>
<text x="465.50" y="392.08">CD55</text>
<text x="465.50" y="399.84">IL15</text>
<text x="465.50" y="407.60">SPHK1</text>
<text x="465.50" y="415.36">LTA</text>
<text x="465.50" y="423.12">ICAM4</text>
<text x="465.50" y="430.88">SCN1B</text>
<text x="465.50" y="438.64">PTGIR</text></g>
<g font-size="8.50" fill="#111" stroke="#111" stroke-width="0.28"><text x="465.50" y="493.20">IRF4</text>
<text x="465.50" y="500.67">CD86</text>
<text x="465.50" y="508.14">HLA-DRB1</text>
<text x="465.50" y="515.61">IRF5</text>
<text x="465.50" y="523.08">UPP1</text>
<text x="465.50" y="530.55">ARL4A</text>
<text x="465.50" y="538.02">PSMA3</text>
<text x="465.50" y="545.49">ZBP1</text>
<text x="465.50" y="552.96">PSMB10</text>
<text x="465.50" y="560.43">TAPBP</text>
<text x="465.50" y="567.90">FCGR1A</text>
<text x="465.50" y="575.37">IL4R</text>
<text x="465.50" y="582.84">PML</text>
<text x="465.50" y="590.31">IL18BP</text>
<text x="465.50" y="597.78">IL15RA</text>
<text x="465.50" y="605.25">RNF213</text>
<text x="465.50" y="612.72">STAT4</text>
<text x="465.50" y="620.19">SP110</text>
<text x="465.50" y="627.66">RAPGEF6</text>
<text x="465.50" y="635.13">PDE4B</text>
<text x="465.50" y="642.60">PTPN2</text>
<text x="465.50" y="650.07">NUP93</text>
<text x="465.50" y="657.54">SRI</text>
<text x="465.50" y="665.01">CASP1</text>
<text x="465.50" y="672.48">ADAR</text>
<text x="465.50" y="679.95">TOR1B</text>
<text x="465.50" y="687.42">IL4R</text>
<text x="465.50" y="694.89">XAF1</text>
<text x="465.50" y="702.36">OAS1</text>
<text x="465.50" y="709.83">GZMA</text>
<text x="465.50" y="717.30">IRF2</text>
<text x="465.50" y="724.77">SAMD9</text>
<text x="465.50" y="732.24">LYSMD2</text>
<text x="465.50" y="739.71">MYD88</text>
<text x="465.50" y="747.18">IFIT3</text>
<text x="465.50" y="754.65">TNFSF10</text>
<text x="465.50" y="762.12">CASP8</text>
<text x="465.50" y="769.59">FAS</text>
<text x="465.50" y="777.06">CCRL2</text>
<text x="465.50" y="784.53">IFITM1</text>
<text x="465.50" y="792.00">TMEM140</text>
<text x="465.50" y="799.47">HLA-A</text>
<text x="465.50" y="806.94">EPSTI1</text>
<text x="465.50" y="814.41">LAP3</text>
<text x="465.50" y="821.88">MTHFD2</text>
<text x="465.50" y="829.35">CDKN1A</text>
<text x="465.50" y="836.82">SOD2</text>
<text x="465.50" y="844.29">CFH</text>
<text x="465.50" y="851.76">SERPING1</text>
<text x="465.50" y="859.23">ST8SIA4</text>
<text x="465.50" y="866.70">PTPN1</text>
<text x="465.50" y="874.17">PARP9</text>
<text x="465.50" y="881.64">NCOA3</text>
<text x="465.50" y="889.11">PFKP</text>
<text x="465.50" y="896.58">NCOA7</text>
<text x="465.50" y="904.05">HIF1A</text>
<text x="465.50" y="911.52">CMPK2</text></g>
<rect x="34.2" y="440.6" width="288" height="4.5" fill="#c8102e"/>
<rect x="327" y="440.6" width="131.6" height="4.5" fill="#0f4c89"/>
<rect x="39" y="914.2" width="287.8" height="4.5" fill="#c8102e"/>
<rect x="331.7" y="914.2" width="130.7" height="4.5" fill="#0f4c89"/>
<g font-size="12.6" fill="#111" stroke="#111" stroke-width="0.12">
<text x="173.6" y="458.8">ET</text>
<text x="375.7" y="458.8">Normal</text>
<text x="173.6" y="932.4">ET</text>
<text x="375.7" y="932.4">Normal</text>
</g>
<text font-size="12.40" fill="#111" stroke="#111" stroke-width="0.15" transform="translate(27.9,280.6) rotate(-90)">Inflammatory genes</text>
<text font-size="12.40" fill="#111" stroke="#111" stroke-width="0.15" transform="translate(27.9,733.5) rotate(-90)">Interferon genes</text>
<text x="8.6" y="22.5" font-size="16" font-weight="bold" fill="#000">A</text>
<text x="8.3" y="482.4" font-size="16" font-weight="bold" fill="#000">B</text>
</svg>
</body></html>
